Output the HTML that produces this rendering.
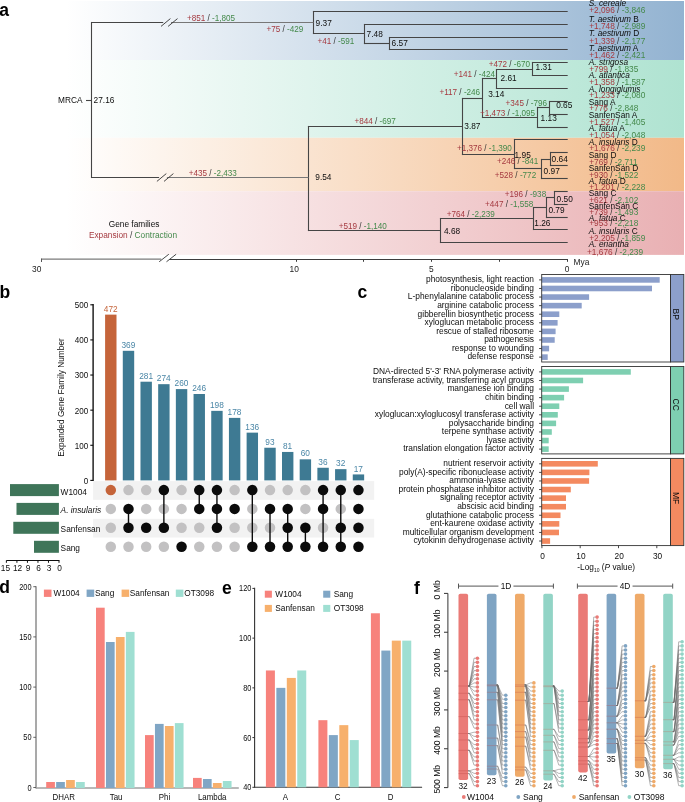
<!DOCTYPE html>
<html><head><meta charset="utf-8"><style>
html,body{margin:0;padding:0;background:#fff;width:685px;height:802px;overflow:hidden}
svg{display:block;will-change:transform}
text{font-family:"Liberation Sans",sans-serif}
</style></head><body>
<svg width="685" height="802" viewBox="0 0 685 802">
<defs><linearGradient id="g0" gradientUnits="userSpaceOnUse" x1="66" y1="0" x2="684" y2="0"><stop offset="0" stop-color="#ffffff"/><stop offset="1" stop-color="#93b3d1"/></linearGradient><linearGradient id="g1" gradientUnits="userSpaceOnUse" x1="66" y1="0" x2="684" y2="0"><stop offset="0" stop-color="#ffffff"/><stop offset="1" stop-color="#afe3d1"/></linearGradient><linearGradient id="g2" gradientUnits="userSpaceOnUse" x1="66" y1="0" x2="684" y2="0"><stop offset="0" stop-color="#ffffff"/><stop offset="1" stop-color="#f2b988"/></linearGradient><linearGradient id="g3" gradientUnits="userSpaceOnUse" x1="66" y1="0" x2="684" y2="0"><stop offset="0" stop-color="#ffffff"/><stop offset="1" stop-color="#e9b0b3"/></linearGradient></defs>
<rect x="0" y="0" width="685" height="802" fill="#fff"/>
<rect x="40.00" y="1.00" width="644.00" height="59.00" fill="url(#g0)" />
<rect x="40.00" y="60.00" width="644.00" height="77.80" fill="url(#g1)" />
<rect x="40.00" y="137.80" width="644.00" height="53.40" fill="url(#g2)" />
<rect x="40.00" y="191.20" width="644.00" height="63.70" fill="url(#g3)" />
<text x="-0.8" y="15.9" font-size="17.5" font-weight="bold" fill="#000">a</text>
<line x1="389.50" y1="36.95" x2="389.50" y2="50.05" stroke="#454545" stroke-width="1.1" />
<line x1="388.95" y1="37.50" x2="567.70" y2="37.50" stroke="#454545" stroke-width="1.1" />
<line x1="388.95" y1="49.50" x2="567.70" y2="49.50" stroke="#454545" stroke-width="1.1" />
<line x1="364.50" y1="23.95" x2="364.50" y2="44.05" stroke="#454545" stroke-width="1.1" />
<line x1="363.95" y1="24.50" x2="567.70" y2="24.50" stroke="#454545" stroke-width="1.1" />
<line x1="363.95" y1="43.50" x2="389.13" y2="43.50" stroke="#454545" stroke-width="1.1" />
<line x1="313.50" y1="10.95" x2="313.50" y2="34.05" stroke="#454545" stroke-width="1.1" />
<line x1="312.95" y1="11.50" x2="567.70" y2="11.50" stroke="#454545" stroke-width="1.1" />
<line x1="312.95" y1="33.50" x2="364.39" y2="33.50" stroke="#454545" stroke-width="1.1" />
<line x1="532.50" y1="61.95" x2="532.50" y2="76.05" stroke="#454545" stroke-width="1.1" />
<line x1="531.95" y1="62.50" x2="567.70" y2="62.50" stroke="#454545" stroke-width="1.1" />
<line x1="531.95" y1="75.50" x2="567.70" y2="75.50" stroke="#454545" stroke-width="1.1" />
<line x1="496.50" y1="68.95" x2="496.50" y2="89.05" stroke="#454545" stroke-width="1.1" />
<line x1="495.95" y1="69.50" x2="532.09" y2="69.50" stroke="#454545" stroke-width="1.1" />
<line x1="495.95" y1="88.50" x2="567.70" y2="88.50" stroke="#454545" stroke-width="1.1" />
<line x1="549.50" y1="100.95" x2="549.50" y2="115.05" stroke="#454545" stroke-width="1.1" />
<line x1="548.95" y1="101.50" x2="567.70" y2="101.50" stroke="#454545" stroke-width="1.1" />
<line x1="548.95" y1="114.50" x2="567.70" y2="114.50" stroke="#454545" stroke-width="1.1" />
<line x1="537.50" y1="106.95" x2="537.50" y2="128.05" stroke="#454545" stroke-width="1.1" />
<line x1="536.95" y1="107.50" x2="549.80" y2="107.50" stroke="#454545" stroke-width="1.1" />
<line x1="536.95" y1="127.50" x2="567.70" y2="127.50" stroke="#454545" stroke-width="1.1" />
<line x1="482.50" y1="77.95" x2="482.50" y2="118.05" stroke="#454545" stroke-width="1.1" />
<line x1="481.95" y1="78.50" x2="496.76" y2="78.50" stroke="#454545" stroke-width="1.1" />
<line x1="481.95" y1="117.50" x2="537.30" y2="117.50" stroke="#454545" stroke-width="1.1" />
<line x1="550.50" y1="151.95" x2="550.50" y2="166.05" stroke="#454545" stroke-width="1.1" />
<line x1="549.95" y1="152.50" x2="567.70" y2="152.50" stroke="#454545" stroke-width="1.1" />
<line x1="549.95" y1="165.50" x2="567.70" y2="165.50" stroke="#454545" stroke-width="1.1" />
<line x1="541.50" y1="158.95" x2="541.50" y2="179.05" stroke="#454545" stroke-width="1.1" />
<line x1="540.95" y1="159.50" x2="550.30" y2="159.50" stroke="#454545" stroke-width="1.1" />
<line x1="540.95" y1="178.50" x2="567.70" y2="178.50" stroke="#454545" stroke-width="1.1" />
<line x1="514.50" y1="138.95" x2="514.50" y2="169.05" stroke="#454545" stroke-width="1.1" />
<line x1="513.95" y1="139.50" x2="567.70" y2="139.50" stroke="#454545" stroke-width="1.1" />
<line x1="513.95" y1="168.50" x2="541.34" y2="168.50" stroke="#454545" stroke-width="1.1" />
<line x1="462.50" y1="97.95" x2="462.50" y2="155.05" stroke="#454545" stroke-width="1.1" />
<line x1="461.95" y1="98.50" x2="482.35" y2="98.50" stroke="#454545" stroke-width="1.1" />
<line x1="461.95" y1="154.50" x2="514.70" y2="154.50" stroke="#454545" stroke-width="1.1" />
<line x1="554.50" y1="190.95" x2="554.50" y2="205.05" stroke="#454545" stroke-width="1.1" />
<line x1="553.95" y1="191.50" x2="567.70" y2="191.50" stroke="#454545" stroke-width="1.1" />
<line x1="553.95" y1="204.50" x2="567.70" y2="204.50" stroke="#454545" stroke-width="1.1" />
<line x1="546.50" y1="196.95" x2="546.50" y2="218.05" stroke="#454545" stroke-width="1.1" />
<line x1="545.95" y1="197.50" x2="554.11" y2="197.50" stroke="#454545" stroke-width="1.1" />
<line x1="545.95" y1="217.50" x2="567.70" y2="217.50" stroke="#454545" stroke-width="1.1" />
<line x1="533.50" y1="206.95" x2="533.50" y2="230.05" stroke="#454545" stroke-width="1.1" />
<line x1="532.95" y1="207.50" x2="546.23" y2="207.50" stroke="#454545" stroke-width="1.1" />
<line x1="532.95" y1="229.50" x2="567.70" y2="229.50" stroke="#454545" stroke-width="1.1" />
<line x1="440.50" y1="217.95" x2="440.50" y2="243.05" stroke="#454545" stroke-width="1.1" />
<line x1="439.95" y1="218.50" x2="533.45" y2="218.50" stroke="#454545" stroke-width="1.1" />
<line x1="439.95" y1="242.50" x2="567.70" y2="242.50" stroke="#454545" stroke-width="1.1" />
<line x1="308.50" y1="125.95" x2="308.50" y2="231.05" stroke="#454545" stroke-width="1.1" />
<line x1="307.95" y1="126.50" x2="462.51" y2="126.50" stroke="#454545" stroke-width="1.1" />
<line x1="307.95" y1="230.50" x2="440.50" y2="230.50" stroke="#454545" stroke-width="1.1" />
<line x1="91.50" y1="21.95" x2="91.50" y2="178.05" stroke="#454545" stroke-width="1.1" />
<line x1="86.00" y1="100.50" x2="91.50" y2="100.50" stroke="#454545" stroke-width="1.1" />
<line x1="91.50" y1="22.50" x2="163.20" y2="22.50" stroke="#454545" stroke-width="1.1" />
<line x1="171.00" y1="22.50" x2="313.50" y2="22.50" stroke="#777" stroke-width="1.2" />
<line x1="161.00" y1="26.40" x2="170.40" y2="18.60" stroke="#333" stroke-width="0.9" />
<line x1="168.10" y1="26.40" x2="177.50" y2="18.60" stroke="#333" stroke-width="0.9" />
<line x1="91.50" y1="177.50" x2="159.10" y2="177.50" stroke="#454545" stroke-width="1.1" />
<line x1="166.90" y1="177.50" x2="308.50" y2="177.50" stroke="#777" stroke-width="1.2" />
<line x1="156.90" y1="181.40" x2="166.30" y2="173.60" stroke="#333" stroke-width="0.9" />
<line x1="164.00" y1="181.40" x2="173.40" y2="173.60" stroke="#333" stroke-width="0.9" />
<text x="315.60" y="25.95" font-size="8.3" text-anchor="start" fill="#0d0d0d" >9.37</text>
<text x="366.60" y="36.95" font-size="8.3" text-anchor="start" fill="#0d0d0d" >7.48</text>
<text x="391.60" y="46.35" font-size="8.3" text-anchor="start" fill="#0d0d0d" >6.57</text>
<text x="535.60" y="69.65" font-size="8.3" text-anchor="start" fill="#0d0d0d" >1.31</text>
<text x="500.50" y="81.25" font-size="8.3" text-anchor="start" fill="#0d0d0d" >2.61</text>
<text x="488.20" y="96.95" font-size="8.3" text-anchor="start" fill="#0d0d0d" >3.14</text>
<text x="556.20" y="108.15" font-size="8.3" text-anchor="start" fill="#0d0d0d" >0.65</text>
<text x="540.60" y="120.75" font-size="8.3" text-anchor="start" fill="#0d0d0d" >1.13</text>
<text x="464.30" y="128.95" font-size="8.3" text-anchor="start" fill="#0d0d0d" >3.87</text>
<text x="514.60" y="157.95" font-size="8.3" text-anchor="start" fill="#0d0d0d" >1.95</text>
<text x="551.60" y="162.45" font-size="8.3" text-anchor="start" fill="#0d0d0d" >0.64</text>
<text x="543.60" y="173.75" font-size="8.3" text-anchor="start" fill="#0d0d0d" >0.97</text>
<text x="556.60" y="201.65" font-size="8.3" text-anchor="start" fill="#0d0d0d" >0.50</text>
<text x="548.40" y="212.75" font-size="8.3" text-anchor="start" fill="#0d0d0d" >0.79</text>
<text x="534.30" y="225.95" font-size="8.3" text-anchor="start" fill="#0d0d0d" >1.26</text>
<text x="444.00" y="234.35" font-size="8.3" text-anchor="start" fill="#0d0d0d" >4.68</text>
<text x="315.30" y="179.95" font-size="8.3" text-anchor="start" fill="#0d0d0d" >9.54</text>
<text x="93.60" y="103.05" font-size="8.3" text-anchor="start" fill="#0d0d0d" >27.16</text>
<text x="186.90" y="21.25" font-size="8.15" text-anchor="start"><tspan fill="#a53a40">+851</tspan><tspan fill="#333"> / </tspan><tspan fill="#44894b">-1,805</tspan></text>
<text x="266.50" y="31.75" font-size="8.15" text-anchor="start"><tspan fill="#a53a40">+75</tspan><tspan fill="#333"> / </tspan><tspan fill="#44894b">-429</tspan></text>
<text x="317.40" y="43.65" font-size="8.15" text-anchor="start"><tspan fill="#a53a40">+41</tspan><tspan fill="#333"> / </tspan><tspan fill="#44894b">-591</tspan></text>
<text x="488.70" y="67.25" font-size="8.15" text-anchor="start"><tspan fill="#a53a40">+472</tspan><tspan fill="#333"> / </tspan><tspan fill="#44894b">-670</tspan></text>
<text x="453.70" y="76.95" font-size="8.15" text-anchor="start"><tspan fill="#a53a40">+141</tspan><tspan fill="#333"> / </tspan><tspan fill="#44894b">-424</tspan></text>
<text x="439.40" y="94.95" font-size="8.15" text-anchor="start"><tspan fill="#a53a40">+117</tspan><tspan fill="#333"> / </tspan><tspan fill="#44894b">-246</tspan></text>
<text x="505.60" y="105.55" font-size="8.15" text-anchor="start"><tspan fill="#a53a40">+345</tspan><tspan fill="#333"> / </tspan><tspan fill="#44894b">-796</tspan></text>
<text x="480.10" y="115.75" font-size="8.15" text-anchor="start"><tspan fill="#a53a40">+1,473</tspan><tspan fill="#333"> / </tspan><tspan fill="#44894b">-1,095</tspan></text>
<text x="354.50" y="123.95" font-size="8.15" text-anchor="start"><tspan fill="#a53a40">+844</tspan><tspan fill="#333"> / </tspan><tspan fill="#44894b">-697</tspan></text>
<text x="456.90" y="151.35" font-size="8.15" text-anchor="start"><tspan fill="#a53a40">+1,376</tspan><tspan fill="#333"> / </tspan><tspan fill="#44894b">-1,390</tspan></text>
<text x="496.90" y="164.45" font-size="8.15" text-anchor="start"><tspan fill="#a53a40">+246</tspan><tspan fill="#333"> / </tspan><tspan fill="#44894b">-841</tspan></text>
<text x="494.80" y="178.15" font-size="8.15" text-anchor="start"><tspan fill="#a53a40">+528</tspan><tspan fill="#333"> / </tspan><tspan fill="#44894b">-772</tspan></text>
<text x="188.70" y="175.95" font-size="8.15" text-anchor="start"><tspan fill="#a53a40">+435</tspan><tspan fill="#333"> / </tspan><tspan fill="#44894b">-2,433</tspan></text>
<text x="504.80" y="196.75" font-size="8.15" text-anchor="start"><tspan fill="#a53a40">+196</tspan><tspan fill="#333"> / </tspan><tspan fill="#44894b">-938</tspan></text>
<text x="485.10" y="206.95" font-size="8.15" text-anchor="start"><tspan fill="#a53a40">+447</tspan><tspan fill="#333"> / </tspan><tspan fill="#44894b">-1,558</tspan></text>
<text x="446.70" y="217.15" font-size="8.15" text-anchor="start"><tspan fill="#a53a40">+764</tspan><tspan fill="#333"> / </tspan><tspan fill="#44894b">-2,239</tspan></text>
<text x="338.70" y="228.55" font-size="8.15" text-anchor="start"><tspan fill="#a53a40">+519</tspan><tspan fill="#333"> / </tspan><tspan fill="#44894b">-1,140</tspan></text>
<text x="588.80" y="5.80" font-size="8.3" text-anchor="start" fill="#0d0d0d" ><tspan font-style="italic">S. cereale</tspan></text>
<text x="589.20" y="13.40" font-size="8.3" text-anchor="start"><tspan fill="#a53a40">+2,096</tspan><tspan fill="#333"> / </tspan><tspan fill="#44894b">-3,846</tspan></text>
<text x="588.80" y="21.60" font-size="8.3" text-anchor="start" fill="#0d0d0d" ><tspan font-style="italic">T. aestivum</tspan> B</text>
<text x="589.20" y="29.00" font-size="8.3" text-anchor="start"><tspan fill="#a53a40">+1,748</tspan><tspan fill="#333"> / </tspan><tspan fill="#44894b">-2,989</tspan></text>
<text x="588.80" y="35.60" font-size="8.3" text-anchor="start" fill="#0d0d0d" ><tspan font-style="italic">T. aestivum</tspan> D</text>
<text x="589.20" y="43.80" font-size="8.3" text-anchor="start"><tspan fill="#a53a40">+1,339</tspan><tspan fill="#333"> / </tspan><tspan fill="#44894b">-2,177</tspan></text>
<text x="588.80" y="51.40" font-size="8.3" text-anchor="start" fill="#0d0d0d" ><tspan font-style="italic">T. aestivum</tspan> A</text>
<text x="589.20" y="58.40" font-size="8.3" text-anchor="start"><tspan fill="#a53a40">+1,462</tspan><tspan fill="#333"> / </tspan><tspan fill="#44894b">-2,421</tspan></text>
<text x="588.80" y="64.90" font-size="8.3" text-anchor="start" fill="#0d0d0d" ><tspan font-style="italic">A. strigosa</tspan></text>
<text x="589.20" y="71.70" font-size="8.3" text-anchor="start"><tspan fill="#a53a40">+799</tspan><tspan fill="#333"> / </tspan><tspan fill="#44894b">-1,835</tspan></text>
<text x="588.80" y="77.50" font-size="8.3" text-anchor="start" fill="#0d0d0d" ><tspan font-style="italic">A. atlantica</tspan></text>
<text x="589.20" y="85.10" font-size="8.3" text-anchor="start"><tspan fill="#a53a40">+1,358</tspan><tspan fill="#333"> / </tspan><tspan fill="#44894b">-1,587</tspan></text>
<text x="588.80" y="91.50" font-size="8.3" text-anchor="start" fill="#0d0d0d" ><tspan font-style="italic">A. longiglumis</tspan></text>
<text x="589.20" y="97.60" font-size="8.3" text-anchor="start"><tspan fill="#a53a40">+1,233</tspan><tspan fill="#333"> / </tspan><tspan fill="#44894b">-2,080</tspan></text>
<text x="588.80" y="104.60" font-size="8.3" text-anchor="start" fill="#0d0d0d" >Sang A</text>
<text x="589.20" y="111.40" font-size="8.3" text-anchor="start"><tspan fill="#a53a40">+776</tspan><tspan fill="#333"> / </tspan><tspan fill="#44894b">-2,848</tspan></text>
<text x="588.80" y="118.20" font-size="8.3" text-anchor="start" fill="#0d0d0d" >SanfenSan A</text>
<text x="589.20" y="124.80" font-size="8.3" text-anchor="start"><tspan fill="#a53a40">+1,527</tspan><tspan fill="#333"> / </tspan><tspan fill="#44894b">-1,405</tspan></text>
<text x="588.80" y="130.50" font-size="8.3" text-anchor="start" fill="#0d0d0d" ><tspan font-style="italic">A. fatua</tspan> A</text>
<text x="589.20" y="137.50" font-size="8.3" text-anchor="start"><tspan fill="#a53a40">+1,054</tspan><tspan fill="#333"> / </tspan><tspan fill="#44894b">-2,048</tspan></text>
<text x="588.80" y="144.50" font-size="8.3" text-anchor="start" fill="#0d0d0d" ><tspan font-style="italic">A. insularis</tspan> D</text>
<text x="589.20" y="151.30" font-size="8.3" text-anchor="start"><tspan fill="#a53a40">+1,676</tspan><tspan fill="#333"> / </tspan><tspan fill="#44894b">-2,239</tspan></text>
<text x="588.80" y="157.60" font-size="8.3" text-anchor="start" fill="#0d0d0d" >Sang D</text>
<text x="589.20" y="165.00" font-size="8.3" text-anchor="start"><tspan fill="#a53a40">+769</tspan><tspan fill="#333"> / </tspan><tspan fill="#44894b">-2,711</tspan></text>
<text x="588.80" y="171.40" font-size="8.3" text-anchor="start" fill="#0d0d0d" >SanfenSan D</text>
<text x="589.20" y="177.50" font-size="8.3" text-anchor="start"><tspan fill="#a53a40">+930</tspan><tspan fill="#333"> / </tspan><tspan fill="#44894b">-1,522</tspan></text>
<text x="588.80" y="184.10" font-size="8.3" text-anchor="start" fill="#0d0d0d" ><tspan font-style="italic">A. fatua</tspan> D</text>
<text x="589.20" y="189.90" font-size="8.3" text-anchor="start"><tspan fill="#a53a40">+1,201</tspan><tspan fill="#333"> / </tspan><tspan fill="#44894b">-2,228</tspan></text>
<text x="588.80" y="196.40" font-size="8.3" text-anchor="start" fill="#0d0d0d" >Sang C</text>
<text x="589.20" y="202.80" font-size="8.3" text-anchor="start"><tspan fill="#a53a40">+621</tspan><tspan fill="#333"> / </tspan><tspan fill="#44894b">-2,102</tspan></text>
<text x="588.80" y="209.00" font-size="8.3" text-anchor="start" fill="#0d0d0d" >SanfenSan C</text>
<text x="589.20" y="214.50" font-size="8.3" text-anchor="start"><tspan fill="#a53a40">+739</tspan><tspan fill="#333"> / </tspan><tspan fill="#44894b">-1,493</tspan></text>
<text x="588.80" y="220.60" font-size="8.3" text-anchor="start" fill="#0d0d0d" ><tspan font-style="italic">A. fatua</tspan> C</text>
<text x="589.20" y="226.10" font-size="8.3" text-anchor="start"><tspan fill="#a53a40">+953</tspan><tspan fill="#333"> / </tspan><tspan fill="#44894b">-2,218</tspan></text>
<text x="588.80" y="233.50" font-size="8.3" text-anchor="start" fill="#0d0d0d" ><tspan font-style="italic">A. insularis</tspan> C</text>
<text x="589.20" y="240.70" font-size="8.3" text-anchor="start"><tspan fill="#a53a40">+2,205</tspan><tspan fill="#333"> / </tspan><tspan fill="#44894b">-1,859</tspan></text>
<text x="588.80" y="246.90" font-size="8.3" text-anchor="start" fill="#0d0d0d" ><tspan font-style="italic">A. eriantha</tspan></text>
<text x="587.00" y="254.90" font-size="8.3" text-anchor="start"><tspan fill="#a53a40">+1,676</tspan><tspan fill="#333"> / </tspan><tspan fill="#44894b">-2,239</tspan></text>
<text x="58.00" y="103.10" font-size="8.3" text-anchor="start" fill="#0d0d0d" >MRCA</text>
<text x="134.10" y="226.60" font-size="8.3" text-anchor="middle" fill="#0d0d0d" >Gene families</text>
<text x="133.0" y="238.0" font-size="8.3" text-anchor="middle"><tspan fill="#a53a40">Expansion</tspan><tspan fill="#333"> / </tspan><tspan fill="#44894b">Contraction</tspan></text>
<line x1="41.20" y1="259.05" x2="161.20" y2="259.05" stroke="#7a7a7a" stroke-width="1.2" />
<line x1="169.50" y1="259.50" x2="568.00" y2="259.50" stroke="#3d3d3d" stroke-width="1.0" />
<line x1="159.20" y1="261.75" x2="168.80" y2="254.25" stroke="#333" stroke-width="0.9" />
<line x1="166.50" y1="261.75" x2="176.10" y2="254.25" stroke="#333" stroke-width="0.9" />
<line x1="41.50" y1="258.55" x2="41.50" y2="262.00" stroke="#555" stroke-width="1.0" />
<line x1="296.50" y1="259.00" x2="296.50" y2="261.80" stroke="#3d3d3d" stroke-width="1.0" />
<line x1="363.50" y1="259.00" x2="363.50" y2="261.80" stroke="#3d3d3d" stroke-width="1.0" />
<line x1="431.50" y1="259.00" x2="431.50" y2="261.80" stroke="#3d3d3d" stroke-width="1.0" />
<line x1="499.50" y1="259.00" x2="499.50" y2="261.80" stroke="#3d3d3d" stroke-width="1.0" />
<line x1="567.50" y1="259.00" x2="567.50" y2="261.80" stroke="#3d3d3d" stroke-width="1.0" />
<text x="41.30" y="271.90" font-size="8.4" text-anchor="end" fill="#222" >30</text>
<text x="294.20" y="271.90" font-size="8.4" text-anchor="middle" fill="#222" >10</text>
<text x="431.30" y="271.90" font-size="8.4" text-anchor="middle" fill="#222" >5</text>
<text x="567.20" y="271.90" font-size="8.4" text-anchor="middle" fill="#222" >0</text>
<text x="573.50" y="265.00" font-size="8.4" text-anchor="start" fill="#222" >Mya</text>
<text x="-0.4" y="297.8" font-size="17.5" font-weight="bold" fill="#000">b</text>
<line x1="93.10" y1="304.00" x2="93.10" y2="481.00" stroke="#000" stroke-width="1.3" />
<line x1="90.30" y1="480.40" x2="93.10" y2="480.40" stroke="#0d0d0d" stroke-width="1.1" />
<text transform="translate(88.20,483.80) scale(0.95,1)" font-size="8.5" text-anchor="end" fill="#0d0d0d">0</text>
<line x1="90.30" y1="445.28" x2="93.10" y2="445.28" stroke="#0d0d0d" stroke-width="1.1" />
<text transform="translate(88.20,448.68) scale(0.95,1)" font-size="8.5" text-anchor="end" fill="#0d0d0d">100</text>
<line x1="90.30" y1="410.16" x2="93.10" y2="410.16" stroke="#0d0d0d" stroke-width="1.1" />
<text transform="translate(88.20,413.56) scale(0.95,1)" font-size="8.5" text-anchor="end" fill="#0d0d0d">200</text>
<line x1="90.30" y1="375.04" x2="93.10" y2="375.04" stroke="#0d0d0d" stroke-width="1.1" />
<text transform="translate(88.20,378.44) scale(0.95,1)" font-size="8.5" text-anchor="end" fill="#0d0d0d">300</text>
<line x1="90.30" y1="339.92" x2="93.10" y2="339.92" stroke="#0d0d0d" stroke-width="1.1" />
<text transform="translate(88.20,343.32) scale(0.95,1)" font-size="8.5" text-anchor="end" fill="#0d0d0d">400</text>
<line x1="90.30" y1="304.80" x2="93.10" y2="304.80" stroke="#0d0d0d" stroke-width="1.1" />
<text transform="translate(88.20,308.20) scale(0.95,1)" font-size="8.5" text-anchor="end" fill="#0d0d0d">500</text>
<text transform="translate(64.1,397.5) rotate(-90)" font-size="8.3" text-anchor="middle" fill="#0d0d0d">Expanded Gene Family Number</text>
<rect x="93.10" y="481.10" width="281.10" height="18.70" fill="#f2f2f2" />
<rect x="93.10" y="518.80" width="281.10" height="18.70" fill="#f2f2f2" />
<rect x="105.10" y="314.63" width="11.40" height="165.77" fill="#c5643a" />
<text x="110.70" y="311.73" font-size="8.3" text-anchor="middle" fill="#c5643a" >472</text>
<rect x="122.79" y="350.81" width="11.40" height="129.59" fill="#3e7a93" />
<text x="128.39" y="347.91" font-size="8.3" text-anchor="middle" fill="#4a86a6" >369</text>
<rect x="140.48" y="381.71" width="11.40" height="98.69" fill="#3e7a93" />
<text x="146.08" y="378.81" font-size="8.3" text-anchor="middle" fill="#4a86a6" >281</text>
<rect x="158.17" y="384.17" width="11.40" height="96.23" fill="#3e7a93" />
<text x="163.77" y="381.27" font-size="8.3" text-anchor="middle" fill="#4a86a6" >274</text>
<rect x="175.86" y="389.09" width="11.40" height="91.31" fill="#3e7a93" />
<text x="181.46" y="386.19" font-size="8.3" text-anchor="middle" fill="#4a86a6" >260</text>
<rect x="193.55" y="394.00" width="11.40" height="86.40" fill="#3e7a93" />
<text x="199.15" y="391.10" font-size="8.3" text-anchor="middle" fill="#4a86a6" >246</text>
<rect x="211.24" y="410.86" width="11.40" height="69.54" fill="#3e7a93" />
<text x="216.84" y="407.96" font-size="8.3" text-anchor="middle" fill="#4a86a6" >198</text>
<rect x="228.93" y="417.89" width="11.40" height="62.51" fill="#3e7a93" />
<text x="234.53" y="414.99" font-size="8.3" text-anchor="middle" fill="#4a86a6" >178</text>
<rect x="246.62" y="432.64" width="11.40" height="47.76" fill="#3e7a93" />
<text x="252.22" y="429.74" font-size="8.3" text-anchor="middle" fill="#4a86a6" >136</text>
<rect x="264.31" y="447.74" width="11.40" height="32.66" fill="#3e7a93" />
<text x="269.91" y="444.84" font-size="8.3" text-anchor="middle" fill="#4a86a6" >93</text>
<rect x="282.00" y="451.95" width="11.40" height="28.45" fill="#3e7a93" />
<text x="287.60" y="449.05" font-size="8.3" text-anchor="middle" fill="#4a86a6" >81</text>
<rect x="299.69" y="459.33" width="11.40" height="21.07" fill="#3e7a93" />
<text x="305.29" y="456.43" font-size="8.3" text-anchor="middle" fill="#4a86a6" >60</text>
<rect x="317.38" y="467.76" width="11.40" height="12.64" fill="#3e7a93" />
<text x="322.98" y="464.86" font-size="8.3" text-anchor="middle" fill="#4a86a6" >36</text>
<rect x="335.07" y="469.16" width="11.40" height="11.24" fill="#3e7a93" />
<text x="340.67" y="466.26" font-size="8.3" text-anchor="middle" fill="#4a86a6" >32</text>
<rect x="352.76" y="474.43" width="11.40" height="5.97" fill="#3e7a93" />
<text x="358.36" y="471.53" font-size="8.3" text-anchor="middle" fill="#4a86a6" >17</text>
<circle cx="110.80" cy="508.90" r="5.25" fill="#c2c1c2"/>
<circle cx="110.80" cy="527.80" r="5.25" fill="#c2c1c2"/>
<circle cx="110.80" cy="546.80" r="5.25" fill="#c2c1c2"/>
<circle cx="110.80" cy="490.10" r="5.25" fill="#c5643a"/>
<circle cx="128.49" cy="490.10" r="5.25" fill="#c2c1c2"/>
<circle cx="128.49" cy="546.80" r="5.25" fill="#c2c1c2"/>
<line x1="128.49" y1="508.90" x2="128.49" y2="527.80" stroke="#0b0b0b" stroke-width="1.4" />
<circle cx="128.49" cy="508.90" r="5.25" fill="#0b0b0b"/>
<circle cx="128.49" cy="527.80" r="5.25" fill="#0b0b0b"/>
<circle cx="146.18" cy="490.10" r="5.25" fill="#c2c1c2"/>
<circle cx="146.18" cy="508.90" r="5.25" fill="#c2c1c2"/>
<circle cx="146.18" cy="546.80" r="5.25" fill="#c2c1c2"/>
<circle cx="146.18" cy="527.80" r="5.25" fill="#0b0b0b"/>
<circle cx="163.87" cy="508.90" r="5.25" fill="#c2c1c2"/>
<circle cx="163.87" cy="546.80" r="5.25" fill="#c2c1c2"/>
<line x1="163.87" y1="490.10" x2="163.87" y2="527.80" stroke="#0b0b0b" stroke-width="1.4" />
<circle cx="163.87" cy="490.10" r="5.25" fill="#0b0b0b"/>
<circle cx="163.87" cy="527.80" r="5.25" fill="#0b0b0b"/>
<circle cx="181.56" cy="490.10" r="5.25" fill="#c2c1c2"/>
<circle cx="181.56" cy="508.90" r="5.25" fill="#c2c1c2"/>
<circle cx="181.56" cy="527.80" r="5.25" fill="#c2c1c2"/>
<circle cx="181.56" cy="546.80" r="5.25" fill="#0b0b0b"/>
<circle cx="199.25" cy="527.80" r="5.25" fill="#c2c1c2"/>
<circle cx="199.25" cy="546.80" r="5.25" fill="#c2c1c2"/>
<line x1="199.25" y1="490.10" x2="199.25" y2="508.90" stroke="#0b0b0b" stroke-width="1.4" />
<circle cx="199.25" cy="490.10" r="5.25" fill="#0b0b0b"/>
<circle cx="199.25" cy="508.90" r="5.25" fill="#0b0b0b"/>
<circle cx="216.94" cy="546.80" r="5.25" fill="#c2c1c2"/>
<line x1="216.94" y1="490.10" x2="216.94" y2="527.80" stroke="#0b0b0b" stroke-width="1.4" />
<circle cx="216.94" cy="490.10" r="5.25" fill="#0b0b0b"/>
<circle cx="216.94" cy="508.90" r="5.25" fill="#0b0b0b"/>
<circle cx="216.94" cy="527.80" r="5.25" fill="#0b0b0b"/>
<circle cx="234.63" cy="490.10" r="5.25" fill="#c2c1c2"/>
<circle cx="234.63" cy="527.80" r="5.25" fill="#c2c1c2"/>
<circle cx="234.63" cy="546.80" r="5.25" fill="#c2c1c2"/>
<circle cx="234.63" cy="508.90" r="5.25" fill="#0b0b0b"/>
<circle cx="252.32" cy="508.90" r="5.25" fill="#c2c1c2"/>
<circle cx="252.32" cy="527.80" r="5.25" fill="#c2c1c2"/>
<line x1="252.32" y1="490.10" x2="252.32" y2="546.80" stroke="#0b0b0b" stroke-width="1.4" />
<circle cx="252.32" cy="490.10" r="5.25" fill="#0b0b0b"/>
<circle cx="252.32" cy="546.80" r="5.25" fill="#0b0b0b"/>
<circle cx="270.01" cy="490.10" r="5.25" fill="#c2c1c2"/>
<circle cx="270.01" cy="527.80" r="5.25" fill="#c2c1c2"/>
<line x1="270.01" y1="508.90" x2="270.01" y2="546.80" stroke="#0b0b0b" stroke-width="1.4" />
<circle cx="270.01" cy="508.90" r="5.25" fill="#0b0b0b"/>
<circle cx="270.01" cy="546.80" r="5.25" fill="#0b0b0b"/>
<circle cx="287.70" cy="490.10" r="5.25" fill="#c2c1c2"/>
<line x1="287.70" y1="508.90" x2="287.70" y2="546.80" stroke="#0b0b0b" stroke-width="1.4" />
<circle cx="287.70" cy="508.90" r="5.25" fill="#0b0b0b"/>
<circle cx="287.70" cy="527.80" r="5.25" fill="#0b0b0b"/>
<circle cx="287.70" cy="546.80" r="5.25" fill="#0b0b0b"/>
<circle cx="305.39" cy="490.10" r="5.25" fill="#c2c1c2"/>
<circle cx="305.39" cy="508.90" r="5.25" fill="#c2c1c2"/>
<line x1="305.39" y1="527.80" x2="305.39" y2="546.80" stroke="#0b0b0b" stroke-width="1.4" />
<circle cx="305.39" cy="527.80" r="5.25" fill="#0b0b0b"/>
<circle cx="305.39" cy="546.80" r="5.25" fill="#0b0b0b"/>
<circle cx="323.08" cy="527.80" r="5.25" fill="#c2c1c2"/>
<line x1="323.08" y1="490.10" x2="323.08" y2="546.80" stroke="#0b0b0b" stroke-width="1.4" />
<circle cx="323.08" cy="490.10" r="5.25" fill="#0b0b0b"/>
<circle cx="323.08" cy="508.90" r="5.25" fill="#0b0b0b"/>
<circle cx="323.08" cy="546.80" r="5.25" fill="#0b0b0b"/>
<circle cx="340.77" cy="508.90" r="5.25" fill="#c2c1c2"/>
<line x1="340.77" y1="490.10" x2="340.77" y2="546.80" stroke="#0b0b0b" stroke-width="1.4" />
<circle cx="340.77" cy="490.10" r="5.25" fill="#0b0b0b"/>
<circle cx="340.77" cy="527.80" r="5.25" fill="#0b0b0b"/>
<circle cx="340.77" cy="546.80" r="5.25" fill="#0b0b0b"/>
<circle cx="358.46" cy="490.10" r="5.25" fill="#0b0b0b"/>
<circle cx="358.46" cy="508.90" r="5.25" fill="#0b0b0b"/>
<circle cx="358.46" cy="527.80" r="5.25" fill="#0b0b0b"/>
<circle cx="358.46" cy="546.80" r="5.25" fill="#0b0b0b"/>
<rect x="10.00" y="484.10" width="48.90" height="12.00" fill="#3f7559" />
<text x="60.60" y="494.50" font-size="8.3" text-anchor="start" fill="#0d0d0d" >W1004</text>
<rect x="16.50" y="502.90" width="42.40" height="12.00" fill="#3f7559" />
<text x="60.60" y="513.30" font-size="8.3" text-anchor="start" fill="#0d0d0d" ><tspan font-style="italic">A. insularis</tspan></text>
<rect x="13.30" y="521.80" width="45.60" height="12.00" fill="#3f7559" />
<text x="60.60" y="532.20" font-size="8.3" text-anchor="start" fill="#0d0d0d" >Sanfensan</text>
<rect x="34.00" y="540.80" width="24.90" height="12.00" fill="#3f7559" />
<text x="60.60" y="551.20" font-size="8.3" text-anchor="start" fill="#0d0d0d" >Sang</text>
<line x1="6.40" y1="560.50" x2="59.40" y2="560.50" stroke="#0d0d0d" stroke-width="1.0" />
<line x1="6.39" y1="560.40" x2="6.39" y2="562.80" stroke="#0d0d0d" stroke-width="1.0" />
<text x="5.39" y="571.10" font-size="8.3" text-anchor="middle" fill="#0d0d0d" >15</text>
<line x1="16.92" y1="560.40" x2="16.92" y2="562.80" stroke="#0d0d0d" stroke-width="1.0" />
<text x="17.52" y="571.10" font-size="8.3" text-anchor="middle" fill="#0d0d0d" >12</text>
<line x1="27.44" y1="560.40" x2="27.44" y2="562.80" stroke="#0d0d0d" stroke-width="1.0" />
<text x="28.04" y="571.10" font-size="8.3" text-anchor="middle" fill="#0d0d0d" >9</text>
<line x1="37.96" y1="560.40" x2="37.96" y2="562.80" stroke="#0d0d0d" stroke-width="1.0" />
<text x="38.56" y="571.10" font-size="8.3" text-anchor="middle" fill="#0d0d0d" >6</text>
<line x1="48.48" y1="560.40" x2="48.48" y2="562.80" stroke="#0d0d0d" stroke-width="1.0" />
<text x="49.08" y="571.10" font-size="8.3" text-anchor="middle" fill="#0d0d0d" >3</text>
<line x1="59.00" y1="560.40" x2="59.00" y2="562.80" stroke="#0d0d0d" stroke-width="1.0" />
<text x="59.60" y="571.10" font-size="8.3" text-anchor="middle" fill="#0d0d0d" >0</text>
<text x="357.4" y="297.8" font-size="17.5" font-weight="bold" fill="#000">c</text>
<rect x="670.50" y="274.50" width="13.30" height="87.50" fill="#8c9fcb" />
<rect x="541.70" y="277.10" width="118.00" height="5.60" fill="#8c9fcb" />
<line x1="539.10" y1="279.90" x2="541.70" y2="279.90" stroke="#333" stroke-width="0.9" />
<text x="534.00" y="282.20" font-size="8.4" text-anchor="end" fill="#0d0d0d" >photosynthesis, light reaction</text>
<rect x="541.70" y="285.68" width="110.30" height="5.60" fill="#8c9fcb" />
<line x1="539.10" y1="288.48" x2="541.70" y2="288.48" stroke="#333" stroke-width="0.9" />
<text x="534.00" y="290.78" font-size="8.4" text-anchor="end" fill="#0d0d0d" >ribonucleoside binding</text>
<rect x="541.70" y="294.26" width="47.40" height="5.60" fill="#8c9fcb" />
<line x1="539.10" y1="297.06" x2="541.70" y2="297.06" stroke="#333" stroke-width="0.9" />
<text x="534.00" y="299.36" font-size="8.4" text-anchor="end" fill="#0d0d0d" >L-phenylalanine catabolic process</text>
<rect x="541.70" y="302.84" width="40.00" height="5.60" fill="#8c9fcb" />
<line x1="539.10" y1="305.64" x2="541.70" y2="305.64" stroke="#333" stroke-width="0.9" />
<text x="534.00" y="307.94" font-size="8.4" text-anchor="end" fill="#0d0d0d" >arginine catabolic process</text>
<rect x="541.70" y="311.42" width="17.60" height="5.60" fill="#8c9fcb" />
<line x1="539.10" y1="314.22" x2="541.70" y2="314.22" stroke="#333" stroke-width="0.9" />
<text x="534.00" y="316.52" font-size="8.4" text-anchor="end" fill="#0d0d0d" >gibberellin biosynthetic process</text>
<rect x="541.70" y="320.00" width="15.90" height="5.60" fill="#8c9fcb" />
<line x1="539.10" y1="322.80" x2="541.70" y2="322.80" stroke="#333" stroke-width="0.9" />
<text x="534.00" y="325.10" font-size="8.4" text-anchor="end" fill="#0d0d0d" >xyloglucan metabolic process</text>
<rect x="541.70" y="328.58" width="13.90" height="5.60" fill="#8c9fcb" />
<line x1="539.10" y1="331.38" x2="541.70" y2="331.38" stroke="#333" stroke-width="0.9" />
<text x="534.00" y="333.68" font-size="8.4" text-anchor="end" fill="#0d0d0d" >rescue of stalled ribosome</text>
<rect x="541.70" y="337.16" width="13.00" height="5.60" fill="#8c9fcb" />
<line x1="539.10" y1="339.96" x2="541.70" y2="339.96" stroke="#333" stroke-width="0.9" />
<text x="534.00" y="342.26" font-size="8.4" text-anchor="end" fill="#0d0d0d" >pathogenesis</text>
<rect x="541.70" y="345.74" width="7.40" height="5.60" fill="#8c9fcb" />
<line x1="539.10" y1="348.54" x2="541.70" y2="348.54" stroke="#333" stroke-width="0.9" />
<text x="534.00" y="350.84" font-size="8.4" text-anchor="end" fill="#0d0d0d" >response to wounding</text>
<rect x="541.70" y="354.32" width="6.00" height="5.60" fill="#8c9fcb" />
<line x1="539.10" y1="357.12" x2="541.70" y2="357.12" stroke="#333" stroke-width="0.9" />
<text x="534.00" y="359.42" font-size="8.4" text-anchor="end" fill="#0d0d0d" >defense response</text>
<rect x="541.70" y="274.50" width="128.80" height="87.50" fill="none" stroke="#333" stroke-width="0.9"/>
<rect x="670.50" y="274.50" width="13.30" height="87.50" fill="none" stroke="#333" stroke-width="0.9"/>
<text transform="translate(673.1,314.20) rotate(90)" font-size="8.5" text-anchor="middle" fill="#0d0d0d">BP</text>
<rect x="670.50" y="366.50" width="13.30" height="87.40" fill="#7ecfb1" />
<rect x="541.70" y="369.10" width="89.10" height="5.60" fill="#7ecfb1" />
<line x1="539.10" y1="371.90" x2="541.70" y2="371.90" stroke="#333" stroke-width="0.9" />
<text x="534.00" y="374.20" font-size="8.4" text-anchor="end" fill="#0d0d0d" >DNA-directed 5'-3' RNA polymerase activity</text>
<rect x="541.70" y="377.68" width="41.40" height="5.60" fill="#7ecfb1" />
<line x1="539.10" y1="380.48" x2="541.70" y2="380.48" stroke="#333" stroke-width="0.9" />
<text x="534.00" y="382.78" font-size="8.4" text-anchor="end" fill="#0d0d0d" >transferase activity, transferring acyl groups</text>
<rect x="541.70" y="386.26" width="27.20" height="5.60" fill="#7ecfb1" />
<line x1="539.10" y1="389.06" x2="541.70" y2="389.06" stroke="#333" stroke-width="0.9" />
<text x="534.00" y="391.36" font-size="8.4" text-anchor="end" fill="#0d0d0d" >manganese ion binding</text>
<rect x="541.70" y="394.84" width="22.40" height="5.60" fill="#7ecfb1" />
<line x1="539.10" y1="397.64" x2="541.70" y2="397.64" stroke="#333" stroke-width="0.9" />
<text x="534.00" y="399.94" font-size="8.4" text-anchor="end" fill="#0d0d0d" >chitin binding</text>
<rect x="541.70" y="403.42" width="17.60" height="5.60" fill="#7ecfb1" />
<line x1="539.10" y1="406.22" x2="541.70" y2="406.22" stroke="#333" stroke-width="0.9" />
<text x="534.00" y="408.52" font-size="8.4" text-anchor="end" fill="#0d0d0d" >cell wall</text>
<rect x="541.70" y="412.00" width="16.10" height="5.60" fill="#7ecfb1" />
<line x1="539.10" y1="414.80" x2="541.70" y2="414.80" stroke="#333" stroke-width="0.9" />
<text x="534.00" y="417.10" font-size="8.4" text-anchor="end" fill="#0d0d0d" >xyloglucan:xyloglucosyl transferase activity</text>
<rect x="541.70" y="420.58" width="14.40" height="5.60" fill="#7ecfb1" />
<line x1="539.10" y1="423.38" x2="541.70" y2="423.38" stroke="#333" stroke-width="0.9" />
<text x="534.00" y="425.68" font-size="8.4" text-anchor="end" fill="#0d0d0d" >polysaccharide binding</text>
<rect x="541.70" y="429.16" width="10.10" height="5.60" fill="#7ecfb1" />
<line x1="539.10" y1="431.96" x2="541.70" y2="431.96" stroke="#333" stroke-width="0.9" />
<text x="534.00" y="434.26" font-size="8.4" text-anchor="end" fill="#0d0d0d" >terpene synthase activity</text>
<rect x="541.70" y="437.74" width="7.00" height="5.60" fill="#7ecfb1" />
<line x1="539.10" y1="440.54" x2="541.70" y2="440.54" stroke="#333" stroke-width="0.9" />
<text x="534.00" y="442.84" font-size="8.4" text-anchor="end" fill="#0d0d0d" >lyase activity</text>
<rect x="541.70" y="446.32" width="7.00" height="5.60" fill="#7ecfb1" />
<line x1="539.10" y1="449.12" x2="541.70" y2="449.12" stroke="#333" stroke-width="0.9" />
<text x="534.00" y="451.42" font-size="8.4" text-anchor="end" fill="#0d0d0d" >translation elongation factor activity</text>
<rect x="541.70" y="366.50" width="128.80" height="87.40" fill="none" stroke="#333" stroke-width="0.9"/>
<rect x="670.50" y="366.50" width="13.30" height="87.40" fill="none" stroke="#333" stroke-width="0.9"/>
<text transform="translate(673.1,404.70) rotate(90)" font-size="8.5" text-anchor="middle" fill="#0d0d0d">CC</text>
<rect x="670.50" y="458.40" width="13.30" height="87.20" fill="#f48a60" />
<rect x="541.70" y="461.00" width="56.10" height="5.60" fill="#f48a60" />
<line x1="539.10" y1="463.80" x2="541.70" y2="463.80" stroke="#333" stroke-width="0.9" />
<text x="534.00" y="466.10" font-size="8.4" text-anchor="end" fill="#0d0d0d" >nutrient reservoir activity</text>
<rect x="541.70" y="469.58" width="47.70" height="5.60" fill="#f48a60" />
<line x1="539.10" y1="472.38" x2="541.70" y2="472.38" stroke="#333" stroke-width="0.9" />
<text x="534.00" y="474.68" font-size="8.4" text-anchor="end" fill="#0d0d0d" >poly(A)-specific ribonuclease activity</text>
<rect x="541.70" y="478.16" width="47.40" height="5.60" fill="#f48a60" />
<line x1="539.10" y1="480.96" x2="541.70" y2="480.96" stroke="#333" stroke-width="0.9" />
<text x="534.00" y="483.26" font-size="8.4" text-anchor="end" fill="#0d0d0d" >ammonia-lyase activity</text>
<rect x="541.70" y="486.74" width="29.10" height="5.60" fill="#f48a60" />
<line x1="539.10" y1="489.54" x2="541.70" y2="489.54" stroke="#333" stroke-width="0.9" />
<text x="534.00" y="491.84" font-size="8.4" text-anchor="end" fill="#0d0d0d" >protein phosphatase inhibitor activity</text>
<rect x="541.70" y="495.32" width="24.30" height="5.60" fill="#f48a60" />
<line x1="539.10" y1="498.12" x2="541.70" y2="498.12" stroke="#333" stroke-width="0.9" />
<text x="534.00" y="500.42" font-size="8.4" text-anchor="end" fill="#0d0d0d" >signaling receptor activity</text>
<rect x="541.70" y="503.90" width="24.30" height="5.60" fill="#f48a60" />
<line x1="539.10" y1="506.70" x2="541.70" y2="506.70" stroke="#333" stroke-width="0.9" />
<text x="534.00" y="509.00" font-size="8.4" text-anchor="end" fill="#0d0d0d" >abscisic acid binding</text>
<rect x="541.70" y="512.48" width="18.80" height="5.60" fill="#f48a60" />
<line x1="539.10" y1="515.28" x2="541.70" y2="515.28" stroke="#333" stroke-width="0.9" />
<text x="534.00" y="517.58" font-size="8.4" text-anchor="end" fill="#0d0d0d" >glutathione catabolic process</text>
<rect x="541.70" y="521.06" width="17.60" height="5.60" fill="#f48a60" />
<line x1="539.10" y1="523.86" x2="541.70" y2="523.86" stroke="#333" stroke-width="0.9" />
<text x="534.00" y="526.16" font-size="8.4" text-anchor="end" fill="#0d0d0d" >ent-kaurene oxidase activity</text>
<rect x="541.70" y="529.64" width="17.30" height="5.60" fill="#f48a60" />
<line x1="539.10" y1="532.44" x2="541.70" y2="532.44" stroke="#333" stroke-width="0.9" />
<text x="534.00" y="534.74" font-size="8.4" text-anchor="end" fill="#0d0d0d" >multicellular organism development</text>
<rect x="541.70" y="538.22" width="8.40" height="5.60" fill="#f48a60" />
<line x1="539.10" y1="541.02" x2="541.70" y2="541.02" stroke="#333" stroke-width="0.9" />
<text x="534.00" y="543.32" font-size="8.4" text-anchor="end" fill="#0d0d0d" >cytokinin dehydrogenase activity</text>
<rect x="541.70" y="458.40" width="128.80" height="87.20" fill="none" stroke="#333" stroke-width="0.9"/>
<rect x="670.50" y="458.40" width="13.30" height="87.20" fill="none" stroke="#333" stroke-width="0.9"/>
<text transform="translate(673.1,498.10) rotate(90)" font-size="8.5" text-anchor="middle" fill="#0d0d0d">MF</text>
<line x1="541.90" y1="545.60" x2="541.90" y2="548.20" stroke="#333" stroke-width="0.9" />
<text x="542.60" y="558.90" font-size="8.3" text-anchor="middle" fill="#0d0d0d" >0</text>
<line x1="580.20" y1="545.60" x2="580.20" y2="548.20" stroke="#333" stroke-width="0.9" />
<text x="580.90" y="558.90" font-size="8.3" text-anchor="middle" fill="#0d0d0d" >10</text>
<line x1="618.50" y1="545.60" x2="618.50" y2="548.20" stroke="#333" stroke-width="0.9" />
<text x="619.20" y="558.90" font-size="8.3" text-anchor="middle" fill="#0d0d0d" >20</text>
<line x1="656.80" y1="545.60" x2="656.80" y2="548.20" stroke="#333" stroke-width="0.9" />
<text x="657.50" y="558.90" font-size="8.3" text-anchor="middle" fill="#0d0d0d" >30</text>
<text x="606.2" y="570.4" font-size="8.3" text-anchor="middle" fill="#0d0d0d">-Log<tspan font-size="5" dy="1.5">10</tspan><tspan dy="-1.5"> (</tspan><tspan font-style="italic">P</tspan> value)</text>
<text x="-0.8" y="593.2" font-size="17.5" font-weight="bold" fill="#000">d</text>
<line x1="36.00" y1="586.20" x2="36.00" y2="788.40" stroke="#a0a0a0" stroke-width="1.8" />
<line x1="36.00" y1="788.00" x2="238.80" y2="788.00" stroke="#a0a0a0" stroke-width="1.4" />
<line x1="33.30" y1="787.50" x2="36.00" y2="787.50" stroke="#555" stroke-width="0.9" />
<text transform="translate(31.50,790.50) scale(0.86,1)" font-size="8.6" text-anchor="end" fill="#0d0d0d">0</text>
<line x1="33.30" y1="737.30" x2="36.00" y2="737.30" stroke="#555" stroke-width="0.9" />
<text transform="translate(31.50,740.30) scale(0.86,1)" font-size="8.6" text-anchor="end" fill="#0d0d0d">50</text>
<line x1="33.30" y1="687.10" x2="36.00" y2="687.10" stroke="#555" stroke-width="0.9" />
<text transform="translate(31.50,690.10) scale(0.86,1)" font-size="8.6" text-anchor="end" fill="#0d0d0d">100</text>
<line x1="33.30" y1="636.90" x2="36.00" y2="636.90" stroke="#555" stroke-width="0.9" />
<text transform="translate(31.50,639.90) scale(0.86,1)" font-size="8.6" text-anchor="end" fill="#0d0d0d">150</text>
<line x1="33.30" y1="586.70" x2="36.00" y2="586.70" stroke="#555" stroke-width="0.9" />
<text transform="translate(31.50,589.70) scale(0.86,1)" font-size="8.6" text-anchor="end" fill="#0d0d0d">200</text>
<rect x="46.20" y="782.00" width="8.70" height="6.00" fill="#f7827c" />
<rect x="56.15" y="782.00" width="8.70" height="6.00" fill="#80a6c5" />
<rect x="66.10" y="780.00" width="8.70" height="8.00" fill="#f7b06c" />
<rect x="76.05" y="782.00" width="8.70" height="6.00" fill="#9fdfd2" />
<text transform="translate(63.80,799.90) scale(0.9,1)" font-size="8.8" text-anchor="middle" fill="#0d0d0d">DHAR</text>
<rect x="96.00" y="607.70" width="8.70" height="180.30" fill="#f7827c" />
<rect x="105.95" y="642.00" width="8.70" height="146.00" fill="#80a6c5" />
<rect x="115.90" y="637.00" width="8.70" height="151.00" fill="#f7b06c" />
<rect x="125.85" y="631.90" width="8.70" height="156.10" fill="#9fdfd2" />
<text transform="translate(116.10,799.90) scale(0.9,1)" font-size="8.8" text-anchor="middle" fill="#0d0d0d">Tau</text>
<rect x="145.00" y="735.10" width="8.70" height="52.90" fill="#f7827c" />
<rect x="154.95" y="723.90" width="8.70" height="64.10" fill="#80a6c5" />
<rect x="164.90" y="726.00" width="8.70" height="62.00" fill="#f7b06c" />
<rect x="174.85" y="723.10" width="8.70" height="64.90" fill="#9fdfd2" />
<text transform="translate(164.50,799.90) scale(0.9,1)" font-size="8.8" text-anchor="middle" fill="#0d0d0d">Phi</text>
<rect x="193.00" y="777.90" width="8.70" height="10.10" fill="#f7827c" />
<rect x="202.95" y="779.00" width="8.70" height="9.00" fill="#80a6c5" />
<rect x="212.90" y="783.00" width="8.70" height="5.00" fill="#f7b06c" />
<rect x="222.85" y="781.00" width="8.70" height="7.00" fill="#9fdfd2" />
<text transform="translate(212.20,799.90) scale(0.9,1)" font-size="8.8" text-anchor="middle" fill="#0d0d0d">Lambda</text>
<rect x="43.90" y="589.60" width="7.60" height="7.30" fill="#f7827c" />
<text x="53.40" y="596.40" font-size="8.3" text-anchor="start" fill="#0d0d0d" >W1004</text>
<rect x="86.60" y="589.60" width="7.60" height="7.30" fill="#80a6c5" />
<text x="94.90" y="596.40" font-size="8.3" text-anchor="start" fill="#0d0d0d" >Sang</text>
<rect x="121.60" y="589.60" width="7.60" height="7.30" fill="#f7b06c" />
<text x="129.80" y="596.40" font-size="8.3" text-anchor="start" fill="#0d0d0d" >Sanfensan</text>
<rect x="175.80" y="589.60" width="7.60" height="7.30" fill="#9fdfd2" />
<text x="184.20" y="596.40" font-size="8.3" text-anchor="start" fill="#0d0d0d" >OT3098</text>
<text x="221.9" y="593.7" font-size="17.5" font-weight="bold" fill="#000">e</text>
<line x1="254.60" y1="587.80" x2="254.60" y2="787.80" stroke="#333" stroke-width="1.1" />
<line x1="254.60" y1="787.30" x2="422.10" y2="787.30" stroke="#333" stroke-width="1.1" />
<line x1="252.40" y1="787.30" x2="254.60" y2="787.30" stroke="#333" stroke-width="1.0" />
<text transform="translate(251.40,790.30) scale(0.86,1)" font-size="8.6" text-anchor="end" fill="#0d0d0d">40</text>
<line x1="252.40" y1="737.58" x2="254.60" y2="737.58" stroke="#333" stroke-width="1.0" />
<text transform="translate(251.40,740.58) scale(0.86,1)" font-size="8.6" text-anchor="end" fill="#0d0d0d">60</text>
<line x1="252.40" y1="687.86" x2="254.60" y2="687.86" stroke="#333" stroke-width="1.0" />
<text transform="translate(251.40,690.86) scale(0.86,1)" font-size="8.6" text-anchor="end" fill="#0d0d0d">80</text>
<line x1="252.40" y1="638.14" x2="254.60" y2="638.14" stroke="#333" stroke-width="1.0" />
<text transform="translate(251.40,641.14) scale(0.86,1)" font-size="8.6" text-anchor="end" fill="#0d0d0d">100</text>
<line x1="252.40" y1="588.42" x2="254.60" y2="588.42" stroke="#333" stroke-width="1.0" />
<text transform="translate(251.40,591.42) scale(0.86,1)" font-size="8.6" text-anchor="end" fill="#0d0d0d">120</text>
<rect x="265.90" y="670.46" width="9.00" height="116.84" fill="#f7827c" />
<rect x="276.35" y="687.86" width="9.00" height="99.44" fill="#80a6c5" />
<rect x="286.80" y="677.92" width="9.00" height="109.38" fill="#f7b06c" />
<rect x="297.25" y="670.46" width="9.00" height="116.84" fill="#9fdfd2" />
<text transform="translate(285.50,799.60) scale(0.9,1)" font-size="8.8" text-anchor="middle" fill="#0d0d0d">A</text>
<rect x="318.40" y="720.18" width="9.00" height="67.12" fill="#f7827c" />
<rect x="328.85" y="735.09" width="9.00" height="52.21" fill="#80a6c5" />
<rect x="339.30" y="725.15" width="9.00" height="62.15" fill="#f7b06c" />
<rect x="349.75" y="740.07" width="9.00" height="47.23" fill="#9fdfd2" />
<text transform="translate(337.60,799.60) scale(0.9,1)" font-size="8.8" text-anchor="middle" fill="#0d0d0d">C</text>
<rect x="370.90" y="613.28" width="9.00" height="174.02" fill="#f7827c" />
<rect x="381.35" y="650.57" width="9.00" height="136.73" fill="#80a6c5" />
<rect x="391.80" y="640.63" width="9.00" height="146.67" fill="#f7b06c" />
<rect x="402.25" y="640.63" width="9.00" height="146.67" fill="#9fdfd2" />
<text transform="translate(390.60,799.60) scale(0.9,1)" font-size="8.8" text-anchor="middle" fill="#0d0d0d">D</text>
<rect x="264.80" y="590.70" width="7.10" height="7.00" fill="#f7827c" />
<text x="275.30" y="597.20" font-size="8.3" text-anchor="start" fill="#0d0d0d" >W1004</text>
<rect x="323.20" y="590.70" width="7.10" height="7.00" fill="#80a6c5" />
<text x="333.70" y="597.20" font-size="8.3" text-anchor="start" fill="#0d0d0d" >Sang</text>
<rect x="264.80" y="604.90" width="7.10" height="7.00" fill="#f7b06c" />
<text x="275.30" y="611.40" font-size="8.3" text-anchor="start" fill="#0d0d0d" >Sanfensan</text>
<rect x="323.20" y="604.90" width="7.10" height="7.00" fill="#9fdfd2" />
<text x="333.70" y="611.40" font-size="8.3" text-anchor="start" fill="#0d0d0d" >OT3098</text>
<text x="414.0" y="593.7" font-size="17.5" font-weight="bold" fill="#000">f</text>
<line x1="447.90" y1="593.40" x2="447.90" y2="787.60" stroke="#333" stroke-width="1.0" />
<line x1="444.00" y1="593.40" x2="447.90" y2="593.40" stroke="#333" stroke-width="1.0" />
<text transform="translate(440.0,599.40) rotate(-90)" font-size="8.6" fill="#0d0d0d">0 Mb</text>
<line x1="444.00" y1="632.24" x2="447.90" y2="632.24" stroke="#333" stroke-width="1.0" />
<text transform="translate(440.0,638.24) rotate(-90)" font-size="8.6" fill="#0d0d0d">100 Mb</text>
<line x1="444.00" y1="671.08" x2="447.90" y2="671.08" stroke="#333" stroke-width="1.0" />
<text transform="translate(440.0,677.08) rotate(-90)" font-size="8.6" fill="#0d0d0d">200 Mb</text>
<line x1="444.00" y1="709.92" x2="447.90" y2="709.92" stroke="#333" stroke-width="1.0" />
<text transform="translate(440.0,715.92) rotate(-90)" font-size="8.6" fill="#0d0d0d">300 Mb</text>
<line x1="444.00" y1="748.76" x2="447.90" y2="748.76" stroke="#333" stroke-width="1.0" />
<text transform="translate(440.0,754.76) rotate(-90)" font-size="8.6" fill="#0d0d0d">400 Mb</text>
<line x1="444.00" y1="787.60" x2="447.90" y2="787.60" stroke="#333" stroke-width="1.0" />
<text transform="translate(440.0,793.60) rotate(-90)" font-size="8.6" fill="#0d0d0d">500 Mb</text>
<rect x="458.50" y="593.70" width="9.60" height="186.30" fill="#ea7b77" rx="1.8"/>
<line x1="458.50" y1="686.00" x2="468.10" y2="686.00" stroke="#c8504f" stroke-width="0.8" stroke-opacity="0.55"/>
<line x1="458.50" y1="693.30" x2="468.10" y2="693.30" stroke="#c8504f" stroke-width="0.8" stroke-opacity="0.55"/>
<line x1="458.50" y1="699.80" x2="468.10" y2="699.80" stroke="#c8504f" stroke-width="0.8" stroke-opacity="0.55"/>
<line x1="458.50" y1="716.60" x2="468.10" y2="716.60" stroke="#c8504f" stroke-width="0.8" stroke-opacity="0.55"/>
<line x1="458.50" y1="733.50" x2="468.10" y2="733.50" stroke="#c8504f" stroke-width="0.8" stroke-opacity="0.55"/>
<line x1="458.50" y1="740.00" x2="468.10" y2="740.00" stroke="#c8504f" stroke-width="0.8" stroke-opacity="0.55"/>
<line x1="458.50" y1="750.30" x2="468.10" y2="750.30" stroke="#c8504f" stroke-width="0.8" stroke-opacity="0.55"/>
<line x1="458.50" y1="770.80" x2="468.10" y2="770.80" stroke="#c8504f" stroke-width="0.8" stroke-opacity="0.55"/>
<line x1="458.50" y1="773.60" x2="468.10" y2="773.60" stroke="#c8504f" stroke-width="0.8" stroke-opacity="0.55"/>
<path d="M468.1,686.0L469.3,686.0L474.0,658.2L477.4,658.2 M468.1,686.0L469.3,686.0L474.0,662.3L477.4,662.3 M468.1,686.0L469.3,686.0L474.0,666.5L477.4,666.5 M468.1,686.0L469.3,686.0L474.0,670.6L477.4,670.6 M468.1,686.0L469.3,686.0L474.0,674.7L477.4,674.7 M468.1,686.0L469.3,686.0L474.0,678.8L477.4,678.8 M468.1,686.0L469.3,686.0L474.0,682.9L477.4,682.9 M468.1,686.0L469.3,686.0L474.0,687.0L477.4,687.0 M468.1,686.0L469.3,686.0L474.0,691.1L477.4,691.1 M468.1,686.0L469.3,686.0L474.0,695.2L477.4,695.2 M468.1,693.3L469.3,693.3L474.0,699.3L477.4,699.3 M468.1,693.3L469.3,693.3L474.0,703.5L477.4,703.5 M468.1,693.3L469.3,693.3L474.0,707.6L477.4,707.6 M468.1,699.8L469.3,699.8L474.0,711.7L477.4,711.7 M468.1,699.8L469.3,699.8L474.0,715.8L477.4,715.8 M468.1,699.8L469.3,699.8L474.0,719.9L477.4,719.9 M468.1,716.6L469.3,716.6L474.0,724.0L477.4,724.0 M468.1,716.6L469.3,716.6L474.0,728.1L477.4,728.1 M468.1,733.5L469.3,733.5L474.0,732.2L477.4,732.2 M468.1,733.5L469.3,733.5L474.0,736.4L477.4,736.4 M468.1,733.5L469.3,733.5L474.0,740.5L477.4,740.5 M468.1,740.0L469.3,740.0L474.0,744.6L477.4,744.6 M468.1,740.0L469.3,740.0L474.0,748.7L477.4,748.7 M468.1,740.0L469.3,740.0L474.0,752.8L477.4,752.8 M468.1,750.3L469.3,750.3L474.0,756.9L477.4,756.9 M468.1,750.3L469.3,750.3L474.0,761.0L477.4,761.0 M468.1,750.3L469.3,750.3L474.0,765.1L477.4,765.1 M468.1,770.8L469.3,770.8L474.0,769.3L477.4,769.3 M468.1,770.8L469.3,770.8L474.0,773.4L477.4,773.4 M468.1,770.8L469.3,770.8L474.0,777.5L477.4,777.5 M468.1,773.6L469.3,773.6L474.0,781.6L477.4,781.6 M468.1,773.6L469.3,773.6L474.0,785.7L477.4,785.7" fill="none" stroke="#6a6a6a" stroke-width="0.5"/>
<circle cx="477.40" cy="658.23" r="1.8" fill="#ea7b77"/>
<circle cx="477.40" cy="662.34" r="1.8" fill="#ea7b77"/>
<circle cx="477.40" cy="666.45" r="1.8" fill="#ea7b77"/>
<circle cx="477.40" cy="670.56" r="1.8" fill="#ea7b77"/>
<circle cx="477.40" cy="674.68" r="1.8" fill="#ea7b77"/>
<circle cx="477.40" cy="678.79" r="1.8" fill="#ea7b77"/>
<circle cx="477.40" cy="682.90" r="1.8" fill="#ea7b77"/>
<circle cx="477.40" cy="687.01" r="1.8" fill="#ea7b77"/>
<circle cx="477.40" cy="691.12" r="1.8" fill="#ea7b77"/>
<circle cx="477.40" cy="695.24" r="1.8" fill="#ea7b77"/>
<circle cx="477.40" cy="699.35" r="1.8" fill="#ea7b77"/>
<circle cx="477.40" cy="703.46" r="1.8" fill="#ea7b77"/>
<circle cx="477.40" cy="707.57" r="1.8" fill="#ea7b77"/>
<circle cx="477.40" cy="711.68" r="1.8" fill="#ea7b77"/>
<circle cx="477.40" cy="715.80" r="1.8" fill="#ea7b77"/>
<circle cx="477.40" cy="719.91" r="1.8" fill="#ea7b77"/>
<circle cx="477.40" cy="724.02" r="1.8" fill="#ea7b77"/>
<circle cx="477.40" cy="728.13" r="1.8" fill="#ea7b77"/>
<circle cx="477.40" cy="732.24" r="1.8" fill="#ea7b77"/>
<circle cx="477.40" cy="736.36" r="1.8" fill="#ea7b77"/>
<circle cx="477.40" cy="740.47" r="1.8" fill="#ea7b77"/>
<circle cx="477.40" cy="744.58" r="1.8" fill="#ea7b77"/>
<circle cx="477.40" cy="748.69" r="1.8" fill="#ea7b77"/>
<circle cx="477.40" cy="752.80" r="1.8" fill="#ea7b77"/>
<circle cx="477.40" cy="756.92" r="1.8" fill="#ea7b77"/>
<circle cx="477.40" cy="761.03" r="1.8" fill="#ea7b77"/>
<circle cx="477.40" cy="765.14" r="1.8" fill="#ea7b77"/>
<circle cx="477.40" cy="769.25" r="1.8" fill="#ea7b77"/>
<circle cx="477.40" cy="773.36" r="1.8" fill="#ea7b77"/>
<circle cx="477.40" cy="777.48" r="1.8" fill="#ea7b77"/>
<circle cx="477.40" cy="781.59" r="1.8" fill="#ea7b77"/>
<circle cx="477.40" cy="785.70" r="1.8" fill="#ea7b77"/>
<text x="463.00" y="788.50" font-size="8.3" text-anchor="middle" fill="#0d0d0d" >32</text>
<rect x="486.90" y="593.70" width="9.60" height="181.60" fill="#7fa4c3" rx="1.8"/>
<line x1="486.90" y1="684.90" x2="496.50" y2="684.90" stroke="#a86a70" stroke-width="0.8" stroke-opacity="0.55"/>
<line x1="486.90" y1="685.80" x2="496.50" y2="685.80" stroke="#a86a70" stroke-width="0.8" stroke-opacity="0.55"/>
<line x1="486.90" y1="692.30" x2="496.50" y2="692.30" stroke="#a86a70" stroke-width="0.8" stroke-opacity="0.55"/>
<line x1="486.90" y1="699.80" x2="496.50" y2="699.80" stroke="#a86a70" stroke-width="0.8" stroke-opacity="0.55"/>
<line x1="486.90" y1="725.00" x2="496.50" y2="725.00" stroke="#a86a70" stroke-width="0.8" stroke-opacity="0.55"/>
<line x1="486.90" y1="738.10" x2="496.50" y2="738.10" stroke="#a86a70" stroke-width="0.8" stroke-opacity="0.55"/>
<line x1="486.90" y1="745.60" x2="496.50" y2="745.60" stroke="#a86a70" stroke-width="0.8" stroke-opacity="0.55"/>
<line x1="486.90" y1="766.20" x2="496.50" y2="766.20" stroke="#a86a70" stroke-width="0.8" stroke-opacity="0.55"/>
<line x1="486.90" y1="769.00" x2="496.50" y2="769.00" stroke="#a86a70" stroke-width="0.8" stroke-opacity="0.55"/>
<path d="M496.5,684.9L497.7,684.9L502.4,695.2L505.8,695.2 M496.5,684.9L497.7,684.9L502.4,699.3L505.8,699.3 M496.5,684.9L497.7,684.9L502.4,703.5L505.8,703.5 M496.5,684.9L497.7,684.9L502.4,707.6L505.8,707.6 M496.5,684.9L497.7,684.9L502.4,711.7L505.8,711.7 M496.5,684.9L497.7,684.9L502.4,715.8L505.8,715.8 M496.5,685.8L497.7,685.8L502.4,719.9L505.8,719.9 M496.5,685.8L497.7,685.8L502.4,724.0L505.8,724.0 M496.5,685.8L497.7,685.8L502.4,728.1L505.8,728.1 M496.5,692.3L497.7,692.3L502.4,732.2L505.8,732.2 M496.5,692.3L497.7,692.3L502.4,736.4L505.8,736.4 M496.5,692.3L497.7,692.3L502.4,740.5L505.8,740.5 M496.5,699.8L497.7,699.8L502.4,744.6L505.8,744.6 M496.5,699.8L497.7,699.8L502.4,748.7L505.8,748.7 M496.5,725.0L497.7,725.0L502.4,752.8L505.8,752.8 M496.5,725.0L497.7,725.0L502.4,756.9L505.8,756.9 M496.5,738.1L497.7,738.1L502.4,761.0L505.8,761.0 M496.5,738.1L497.7,738.1L502.4,765.1L505.8,765.1 M496.5,745.6L497.7,745.6L502.4,769.3L505.8,769.3 M496.5,745.6L497.7,745.6L502.4,773.4L505.8,773.4 M496.5,766.2L497.7,766.2L502.4,777.5L505.8,777.5 M496.5,766.2L497.7,766.2L502.4,781.6L505.8,781.6 M496.5,769.0L497.7,769.0L502.4,785.7L505.8,785.7" fill="none" stroke="#6a6a6a" stroke-width="0.5"/>
<circle cx="505.80" cy="695.24" r="1.8" fill="#7fa4c3"/>
<circle cx="505.80" cy="699.35" r="1.8" fill="#7fa4c3"/>
<circle cx="505.80" cy="703.46" r="1.8" fill="#7fa4c3"/>
<circle cx="505.80" cy="707.57" r="1.8" fill="#7fa4c3"/>
<circle cx="505.80" cy="711.68" r="1.8" fill="#7fa4c3"/>
<circle cx="505.80" cy="715.80" r="1.8" fill="#7fa4c3"/>
<circle cx="505.80" cy="719.91" r="1.8" fill="#7fa4c3"/>
<circle cx="505.80" cy="724.02" r="1.8" fill="#7fa4c3"/>
<circle cx="505.80" cy="728.13" r="1.8" fill="#7fa4c3"/>
<circle cx="505.80" cy="732.24" r="1.8" fill="#7fa4c3"/>
<circle cx="505.80" cy="736.36" r="1.8" fill="#7fa4c3"/>
<circle cx="505.80" cy="740.47" r="1.8" fill="#7fa4c3"/>
<circle cx="505.80" cy="744.58" r="1.8" fill="#7fa4c3"/>
<circle cx="505.80" cy="748.69" r="1.8" fill="#7fa4c3"/>
<circle cx="505.80" cy="752.80" r="1.8" fill="#7fa4c3"/>
<circle cx="505.80" cy="756.92" r="1.8" fill="#7fa4c3"/>
<circle cx="505.80" cy="761.03" r="1.8" fill="#7fa4c3"/>
<circle cx="505.80" cy="765.14" r="1.8" fill="#7fa4c3"/>
<circle cx="505.80" cy="769.25" r="1.8" fill="#7fa4c3"/>
<circle cx="505.80" cy="773.36" r="1.8" fill="#7fa4c3"/>
<circle cx="505.80" cy="777.48" r="1.8" fill="#7fa4c3"/>
<circle cx="505.80" cy="781.59" r="1.8" fill="#7fa4c3"/>
<circle cx="505.80" cy="785.70" r="1.8" fill="#7fa4c3"/>
<text x="491.40" y="783.80" font-size="8.3" text-anchor="middle" fill="#0d0d0d" >23</text>
<rect x="515.00" y="593.70" width="9.60" height="183.10" fill="#efaa69" rx="1.8"/>
<line x1="515.00" y1="684.90" x2="524.60" y2="684.90" stroke="#d0644a" stroke-width="0.8" stroke-opacity="0.55"/>
<line x1="515.00" y1="686.40" x2="524.60" y2="686.40" stroke="#d0644a" stroke-width="0.8" stroke-opacity="0.55"/>
<line x1="515.00" y1="692.30" x2="524.60" y2="692.30" stroke="#d0644a" stroke-width="0.8" stroke-opacity="0.55"/>
<line x1="515.00" y1="700.20" x2="524.60" y2="700.20" stroke="#d0644a" stroke-width="0.8" stroke-opacity="0.55"/>
<line x1="515.00" y1="725.00" x2="524.60" y2="725.00" stroke="#d0644a" stroke-width="0.8" stroke-opacity="0.55"/>
<line x1="515.00" y1="731.60" x2="524.60" y2="731.60" stroke="#d0644a" stroke-width="0.8" stroke-opacity="0.55"/>
<line x1="515.00" y1="737.20" x2="524.60" y2="737.20" stroke="#d0644a" stroke-width="0.8" stroke-opacity="0.55"/>
<line x1="515.00" y1="746.20" x2="524.60" y2="746.20" stroke="#d0644a" stroke-width="0.8" stroke-opacity="0.55"/>
<line x1="515.00" y1="767.10" x2="524.60" y2="767.10" stroke="#d0644a" stroke-width="0.8" stroke-opacity="0.55"/>
<line x1="515.00" y1="769.90" x2="524.60" y2="769.90" stroke="#d0644a" stroke-width="0.8" stroke-opacity="0.55"/>
<path d="M524.6,684.9L525.8,684.9L530.5,682.9L533.9,682.9 M524.6,684.9L525.8,684.9L530.5,687.0L533.9,687.0 M524.6,684.9L525.8,684.9L530.5,691.1L533.9,691.1 M524.6,684.9L525.8,684.9L530.5,695.2L533.9,695.2 M524.6,684.9L525.8,684.9L530.5,699.3L533.9,699.3 M524.6,684.9L525.8,684.9L530.5,703.5L533.9,703.5 M524.6,686.4L525.8,686.4L530.5,707.6L533.9,707.6 M524.6,686.4L525.8,686.4L530.5,711.7L533.9,711.7 M524.6,686.4L525.8,686.4L530.5,715.8L533.9,715.8 M524.6,692.3L525.8,692.3L530.5,719.9L533.9,719.9 M524.6,692.3L525.8,692.3L530.5,724.0L533.9,724.0 M524.6,692.3L525.8,692.3L530.5,728.1L533.9,728.1 M524.6,700.2L525.8,700.2L530.5,732.2L533.9,732.2 M524.6,700.2L525.8,700.2L530.5,736.4L533.9,736.4 M524.6,725.0L525.8,725.0L530.5,740.5L533.9,740.5 M524.6,725.0L525.8,725.0L530.5,744.6L533.9,744.6 M524.6,731.6L525.8,731.6L530.5,748.7L533.9,748.7 M524.6,731.6L525.8,731.6L530.5,752.8L533.9,752.8 M524.6,737.2L525.8,737.2L530.5,756.9L533.9,756.9 M524.6,737.2L525.8,737.2L530.5,761.0L533.9,761.0 M524.6,746.2L525.8,746.2L530.5,765.1L533.9,765.1 M524.6,746.2L525.8,746.2L530.5,769.3L533.9,769.3 M524.6,767.1L525.8,767.1L530.5,773.4L533.9,773.4 M524.6,767.1L525.8,767.1L530.5,777.5L533.9,777.5 M524.6,769.9L525.8,769.9L530.5,781.6L533.9,781.6 M524.6,769.9L525.8,769.9L530.5,785.7L533.9,785.7" fill="none" stroke="#6a6a6a" stroke-width="0.5"/>
<circle cx="533.90" cy="682.90" r="1.8" fill="#efaa69"/>
<circle cx="533.90" cy="687.01" r="1.8" fill="#efaa69"/>
<circle cx="533.90" cy="691.12" r="1.8" fill="#efaa69"/>
<circle cx="533.90" cy="695.24" r="1.8" fill="#efaa69"/>
<circle cx="533.90" cy="699.35" r="1.8" fill="#efaa69"/>
<circle cx="533.90" cy="703.46" r="1.8" fill="#efaa69"/>
<circle cx="533.90" cy="707.57" r="1.8" fill="#efaa69"/>
<circle cx="533.90" cy="711.68" r="1.8" fill="#efaa69"/>
<circle cx="533.90" cy="715.80" r="1.8" fill="#efaa69"/>
<circle cx="533.90" cy="719.91" r="1.8" fill="#efaa69"/>
<circle cx="533.90" cy="724.02" r="1.8" fill="#efaa69"/>
<circle cx="533.90" cy="728.13" r="1.8" fill="#efaa69"/>
<circle cx="533.90" cy="732.24" r="1.8" fill="#efaa69"/>
<circle cx="533.90" cy="736.36" r="1.8" fill="#efaa69"/>
<circle cx="533.90" cy="740.47" r="1.8" fill="#efaa69"/>
<circle cx="533.90" cy="744.58" r="1.8" fill="#efaa69"/>
<circle cx="533.90" cy="748.69" r="1.8" fill="#efaa69"/>
<circle cx="533.90" cy="752.80" r="1.8" fill="#efaa69"/>
<circle cx="533.90" cy="756.92" r="1.8" fill="#efaa69"/>
<circle cx="533.90" cy="761.03" r="1.8" fill="#efaa69"/>
<circle cx="533.90" cy="765.14" r="1.8" fill="#efaa69"/>
<circle cx="533.90" cy="769.25" r="1.8" fill="#efaa69"/>
<circle cx="533.90" cy="773.36" r="1.8" fill="#efaa69"/>
<circle cx="533.90" cy="777.48" r="1.8" fill="#efaa69"/>
<circle cx="533.90" cy="781.59" r="1.8" fill="#efaa69"/>
<circle cx="533.90" cy="785.70" r="1.8" fill="#efaa69"/>
<text x="519.50" y="785.30" font-size="8.3" text-anchor="middle" fill="#0d0d0d" >26</text>
<rect x="543.30" y="593.70" width="9.60" height="186.90" fill="#92d4c6" rx="1.8"/>
<line x1="543.30" y1="685.80" x2="552.90" y2="685.80" stroke="#b88a7a" stroke-width="0.8" stroke-opacity="0.55"/>
<line x1="543.30" y1="686.70" x2="552.90" y2="686.70" stroke="#b88a7a" stroke-width="0.8" stroke-opacity="0.55"/>
<line x1="543.30" y1="703.60" x2="552.90" y2="703.60" stroke="#b88a7a" stroke-width="0.8" stroke-opacity="0.55"/>
<line x1="543.30" y1="729.30" x2="552.90" y2="729.30" stroke="#b88a7a" stroke-width="0.8" stroke-opacity="0.55"/>
<line x1="543.30" y1="735.30" x2="552.90" y2="735.30" stroke="#b88a7a" stroke-width="0.8" stroke-opacity="0.55"/>
<line x1="543.30" y1="741.90" x2="552.90" y2="741.90" stroke="#b88a7a" stroke-width="0.8" stroke-opacity="0.55"/>
<line x1="543.30" y1="750.30" x2="552.90" y2="750.30" stroke="#b88a7a" stroke-width="0.8" stroke-opacity="0.55"/>
<line x1="543.30" y1="770.80" x2="552.90" y2="770.80" stroke="#b88a7a" stroke-width="0.8" stroke-opacity="0.55"/>
<line x1="543.30" y1="774.20" x2="552.90" y2="774.20" stroke="#b88a7a" stroke-width="0.8" stroke-opacity="0.55"/>
<path d="M552.9,685.8L554.1,685.8L558.8,691.1L562.2,691.1 M552.9,685.8L554.1,685.8L558.8,695.2L562.2,695.2 M552.9,685.8L554.1,685.8L558.8,699.3L562.2,699.3 M552.9,685.8L554.1,685.8L558.8,703.5L562.2,703.5 M552.9,685.8L554.1,685.8L558.8,707.6L562.2,707.6 M552.9,685.8L554.1,685.8L558.8,711.7L562.2,711.7 M552.9,686.7L554.1,686.7L558.8,715.8L562.2,715.8 M552.9,686.7L554.1,686.7L558.8,719.9L562.2,719.9 M552.9,686.7L554.1,686.7L558.8,724.0L562.2,724.0 M552.9,703.6L554.1,703.6L558.8,728.1L562.2,728.1 M552.9,703.6L554.1,703.6L558.8,732.2L562.2,732.2 M552.9,729.3L554.1,729.3L558.8,736.4L562.2,736.4 M552.9,729.3L554.1,729.3L558.8,740.5L562.2,740.5 M552.9,735.3L554.1,735.3L558.8,744.6L562.2,744.6 M552.9,735.3L554.1,735.3L558.8,748.7L562.2,748.7 M552.9,741.9L554.1,741.9L558.8,752.8L562.2,752.8 M552.9,741.9L554.1,741.9L558.8,756.9L562.2,756.9 M552.9,750.3L554.1,750.3L558.8,761.0L562.2,761.0 M552.9,750.3L554.1,750.3L558.8,765.1L562.2,765.1 M552.9,770.8L554.1,770.8L558.8,769.3L562.2,769.3 M552.9,770.8L554.1,770.8L558.8,773.4L562.2,773.4 M552.9,770.8L554.1,770.8L558.8,777.5L562.2,777.5 M552.9,774.2L554.1,774.2L558.8,781.6L562.2,781.6 M552.9,774.2L554.1,774.2L558.8,785.7L562.2,785.7" fill="none" stroke="#6a6a6a" stroke-width="0.5"/>
<circle cx="562.20" cy="691.12" r="1.8" fill="#92d4c6"/>
<circle cx="562.20" cy="695.24" r="1.8" fill="#92d4c6"/>
<circle cx="562.20" cy="699.35" r="1.8" fill="#92d4c6"/>
<circle cx="562.20" cy="703.46" r="1.8" fill="#92d4c6"/>
<circle cx="562.20" cy="707.57" r="1.8" fill="#92d4c6"/>
<circle cx="562.20" cy="711.68" r="1.8" fill="#92d4c6"/>
<circle cx="562.20" cy="715.80" r="1.8" fill="#92d4c6"/>
<circle cx="562.20" cy="719.91" r="1.8" fill="#92d4c6"/>
<circle cx="562.20" cy="724.02" r="1.8" fill="#92d4c6"/>
<circle cx="562.20" cy="728.13" r="1.8" fill="#92d4c6"/>
<circle cx="562.20" cy="732.24" r="1.8" fill="#92d4c6"/>
<circle cx="562.20" cy="736.36" r="1.8" fill="#92d4c6"/>
<circle cx="562.20" cy="740.47" r="1.8" fill="#92d4c6"/>
<circle cx="562.20" cy="744.58" r="1.8" fill="#92d4c6"/>
<circle cx="562.20" cy="748.69" r="1.8" fill="#92d4c6"/>
<circle cx="562.20" cy="752.80" r="1.8" fill="#92d4c6"/>
<circle cx="562.20" cy="756.92" r="1.8" fill="#92d4c6"/>
<circle cx="562.20" cy="761.03" r="1.8" fill="#92d4c6"/>
<circle cx="562.20" cy="765.14" r="1.8" fill="#92d4c6"/>
<circle cx="562.20" cy="769.25" r="1.8" fill="#92d4c6"/>
<circle cx="562.20" cy="773.36" r="1.8" fill="#92d4c6"/>
<circle cx="562.20" cy="777.48" r="1.8" fill="#92d4c6"/>
<circle cx="562.20" cy="781.59" r="1.8" fill="#92d4c6"/>
<circle cx="562.20" cy="785.70" r="1.8" fill="#92d4c6"/>
<text x="547.80" y="789.10" font-size="8.3" text-anchor="middle" fill="#0d0d0d" >24</text>
<rect x="578.20" y="593.70" width="9.60" height="178.70" fill="#ea7b77" rx="1.8"/>
<line x1="578.20" y1="701.50" x2="587.80" y2="701.50" stroke="#c8504f" stroke-width="0.8" stroke-opacity="0.55"/>
<line x1="578.20" y1="719.80" x2="587.80" y2="719.80" stroke="#c8504f" stroke-width="0.8" stroke-opacity="0.55"/>
<line x1="578.20" y1="730.00" x2="587.80" y2="730.00" stroke="#c8504f" stroke-width="0.8" stroke-opacity="0.55"/>
<line x1="578.20" y1="738.70" x2="587.80" y2="738.70" stroke="#c8504f" stroke-width="0.8" stroke-opacity="0.55"/>
<line x1="578.20" y1="742.80" x2="587.80" y2="742.80" stroke="#c8504f" stroke-width="0.8" stroke-opacity="0.55"/>
<line x1="578.20" y1="747.00" x2="587.80" y2="747.00" stroke="#c8504f" stroke-width="0.8" stroke-opacity="0.55"/>
<line x1="578.20" y1="756.50" x2="587.80" y2="756.50" stroke="#c8504f" stroke-width="0.8" stroke-opacity="0.55"/>
<line x1="578.20" y1="760.80" x2="587.80" y2="760.80" stroke="#c8504f" stroke-width="0.8" stroke-opacity="0.55"/>
<line x1="578.20" y1="764.10" x2="587.80" y2="764.10" stroke="#c8504f" stroke-width="0.8" stroke-opacity="0.55"/>
<path d="M587.8,701.5L589.0,701.5L593.7,617.1L597.1,617.1 M587.8,701.5L589.0,701.5L593.7,621.2L597.1,621.2 M587.8,701.5L589.0,701.5L593.7,625.3L597.1,625.3 M587.8,701.5L589.0,701.5L593.7,629.4L597.1,629.4 M587.8,701.5L589.0,701.5L593.7,633.6L597.1,633.6 M587.8,701.5L589.0,701.5L593.7,637.7L597.1,637.7 M587.8,701.5L589.0,701.5L593.7,641.8L597.1,641.8 M587.8,701.5L589.0,701.5L593.7,645.9L597.1,645.9 M587.8,701.5L589.0,701.5L593.7,650.0L597.1,650.0 M587.8,701.5L589.0,701.5L593.7,654.1L597.1,654.1 M587.8,719.8L589.0,719.8L593.7,658.2L597.1,658.2 M587.8,719.8L589.0,719.8L593.7,662.3L597.1,662.3 M587.8,719.8L589.0,719.8L593.7,666.5L597.1,666.5 M587.8,719.8L589.0,719.8L593.7,670.6L597.1,670.6 M587.8,719.8L589.0,719.8L593.7,674.7L597.1,674.7 M587.8,730.0L589.0,730.0L593.7,678.8L597.1,678.8 M587.8,730.0L589.0,730.0L593.7,682.9L597.1,682.9 M587.8,730.0L589.0,730.0L593.7,687.0L597.1,687.0 M587.8,730.0L589.0,730.0L593.7,691.1L597.1,691.1 M587.8,730.0L589.0,730.0L593.7,695.2L597.1,695.2 M587.8,738.7L589.0,738.7L593.7,699.3L597.1,699.3 M587.8,738.7L589.0,738.7L593.7,703.5L597.1,703.5 M587.8,738.7L589.0,738.7L593.7,707.6L597.1,707.6 M587.8,738.7L589.0,738.7L593.7,711.7L597.1,711.7 M587.8,742.8L589.0,742.8L593.7,715.8L597.1,715.8 M587.8,742.8L589.0,742.8L593.7,719.9L597.1,719.9 M587.8,742.8L589.0,742.8L593.7,724.0L597.1,724.0 M587.8,742.8L589.0,742.8L593.7,728.1L597.1,728.1 M587.8,747.0L589.0,747.0L593.7,732.2L597.1,732.2 M587.8,747.0L589.0,747.0L593.7,736.4L597.1,736.4 M587.8,747.0L589.0,747.0L593.7,740.5L597.1,740.5 M587.8,747.0L589.0,747.0L593.7,744.6L597.1,744.6 M587.8,756.5L589.0,756.5L593.7,748.7L597.1,748.7 M587.8,756.5L589.0,756.5L593.7,752.8L597.1,752.8 M587.8,756.5L589.0,756.5L593.7,756.9L597.1,756.9 M587.8,756.5L589.0,756.5L593.7,761.0L597.1,761.0 M587.8,760.8L589.0,760.8L593.7,765.1L597.1,765.1 M587.8,760.8L589.0,760.8L593.7,769.3L597.1,769.3 M587.8,760.8L589.0,760.8L593.7,773.4L597.1,773.4 M587.8,764.1L589.0,764.1L593.7,777.5L597.1,777.5 M587.8,764.1L589.0,764.1L593.7,781.6L597.1,781.6 M587.8,764.1L589.0,764.1L593.7,785.7L597.1,785.7" fill="none" stroke="#6a6a6a" stroke-width="0.5"/>
<circle cx="597.10" cy="617.11" r="1.8" fill="#ea7b77"/>
<circle cx="597.10" cy="621.22" r="1.8" fill="#ea7b77"/>
<circle cx="597.10" cy="625.33" r="1.8" fill="#ea7b77"/>
<circle cx="597.10" cy="629.44" r="1.8" fill="#ea7b77"/>
<circle cx="597.10" cy="633.56" r="1.8" fill="#ea7b77"/>
<circle cx="597.10" cy="637.67" r="1.8" fill="#ea7b77"/>
<circle cx="597.10" cy="641.78" r="1.8" fill="#ea7b77"/>
<circle cx="597.10" cy="645.89" r="1.8" fill="#ea7b77"/>
<circle cx="597.10" cy="650.00" r="1.8" fill="#ea7b77"/>
<circle cx="597.10" cy="654.12" r="1.8" fill="#ea7b77"/>
<circle cx="597.10" cy="658.23" r="1.8" fill="#ea7b77"/>
<circle cx="597.10" cy="662.34" r="1.8" fill="#ea7b77"/>
<circle cx="597.10" cy="666.45" r="1.8" fill="#ea7b77"/>
<circle cx="597.10" cy="670.56" r="1.8" fill="#ea7b77"/>
<circle cx="597.10" cy="674.68" r="1.8" fill="#ea7b77"/>
<circle cx="597.10" cy="678.79" r="1.8" fill="#ea7b77"/>
<circle cx="597.10" cy="682.90" r="1.8" fill="#ea7b77"/>
<circle cx="597.10" cy="687.01" r="1.8" fill="#ea7b77"/>
<circle cx="597.10" cy="691.12" r="1.8" fill="#ea7b77"/>
<circle cx="597.10" cy="695.24" r="1.8" fill="#ea7b77"/>
<circle cx="597.10" cy="699.35" r="1.8" fill="#ea7b77"/>
<circle cx="597.10" cy="703.46" r="1.8" fill="#ea7b77"/>
<circle cx="597.10" cy="707.57" r="1.8" fill="#ea7b77"/>
<circle cx="597.10" cy="711.68" r="1.8" fill="#ea7b77"/>
<circle cx="597.10" cy="715.80" r="1.8" fill="#ea7b77"/>
<circle cx="597.10" cy="719.91" r="1.8" fill="#ea7b77"/>
<circle cx="597.10" cy="724.02" r="1.8" fill="#ea7b77"/>
<circle cx="597.10" cy="728.13" r="1.8" fill="#ea7b77"/>
<circle cx="597.10" cy="732.24" r="1.8" fill="#ea7b77"/>
<circle cx="597.10" cy="736.36" r="1.8" fill="#ea7b77"/>
<circle cx="597.10" cy="740.47" r="1.8" fill="#ea7b77"/>
<circle cx="597.10" cy="744.58" r="1.8" fill="#ea7b77"/>
<circle cx="597.10" cy="748.69" r="1.8" fill="#ea7b77"/>
<circle cx="597.10" cy="752.80" r="1.8" fill="#ea7b77"/>
<circle cx="597.10" cy="756.92" r="1.8" fill="#ea7b77"/>
<circle cx="597.10" cy="761.03" r="1.8" fill="#ea7b77"/>
<circle cx="597.10" cy="765.14" r="1.8" fill="#ea7b77"/>
<circle cx="597.10" cy="769.25" r="1.8" fill="#ea7b77"/>
<circle cx="597.10" cy="773.36" r="1.8" fill="#ea7b77"/>
<circle cx="597.10" cy="777.48" r="1.8" fill="#ea7b77"/>
<circle cx="597.10" cy="781.59" r="1.8" fill="#ea7b77"/>
<circle cx="597.10" cy="785.70" r="1.8" fill="#ea7b77"/>
<text x="582.70" y="780.90" font-size="8.3" text-anchor="middle" fill="#0d0d0d" >42</text>
<rect x="606.60" y="593.70" width="9.60" height="159.90" fill="#7fa4c3" rx="1.8"/>
<line x1="606.60" y1="688.20" x2="616.20" y2="688.20" stroke="#a86a70" stroke-width="0.8" stroke-opacity="0.55"/>
<line x1="606.60" y1="705.50" x2="616.20" y2="705.50" stroke="#a86a70" stroke-width="0.8" stroke-opacity="0.55"/>
<line x1="606.60" y1="716.20" x2="616.20" y2="716.20" stroke="#a86a70" stroke-width="0.8" stroke-opacity="0.55"/>
<line x1="606.60" y1="722.80" x2="616.20" y2="722.80" stroke="#a86a70" stroke-width="0.8" stroke-opacity="0.55"/>
<line x1="606.60" y1="729.20" x2="616.20" y2="729.20" stroke="#a86a70" stroke-width="0.8" stroke-opacity="0.55"/>
<line x1="606.60" y1="738.70" x2="616.20" y2="738.70" stroke="#a86a70" stroke-width="0.8" stroke-opacity="0.55"/>
<line x1="606.60" y1="743.50" x2="616.20" y2="743.50" stroke="#a86a70" stroke-width="0.8" stroke-opacity="0.55"/>
<path d="M616.2,688.2L617.4,688.2L622.1,645.9L625.5,645.9 M616.2,688.2L617.4,688.2L622.1,650.0L625.5,650.0 M616.2,688.2L617.4,688.2L622.1,654.1L625.5,654.1 M616.2,688.2L617.4,688.2L622.1,658.2L625.5,658.2 M616.2,688.2L617.4,688.2L622.1,662.3L625.5,662.3 M616.2,688.2L617.4,688.2L622.1,666.5L625.5,666.5 M616.2,705.5L617.4,705.5L622.1,670.6L625.5,670.6 M616.2,705.5L617.4,705.5L622.1,674.7L625.5,674.7 M616.2,705.5L617.4,705.5L622.1,678.8L625.5,678.8 M616.2,705.5L617.4,705.5L622.1,682.9L625.5,682.9 M616.2,705.5L617.4,705.5L622.1,687.0L625.5,687.0 M616.2,705.5L617.4,705.5L622.1,691.1L625.5,691.1 M616.2,716.2L617.4,716.2L622.1,695.2L625.5,695.2 M616.2,716.2L617.4,716.2L622.1,699.3L625.5,699.3 M616.2,716.2L617.4,716.2L622.1,703.5L625.5,703.5 M616.2,716.2L617.4,716.2L622.1,707.6L625.5,707.6 M616.2,716.2L617.4,716.2L622.1,711.7L625.5,711.7 M616.2,722.8L617.4,722.8L622.1,715.8L625.5,715.8 M616.2,722.8L617.4,722.8L622.1,719.9L625.5,719.9 M616.2,722.8L617.4,722.8L622.1,724.0L625.5,724.0 M616.2,722.8L617.4,722.8L622.1,728.1L625.5,728.1 M616.2,722.8L617.4,722.8L622.1,732.2L625.5,732.2 M616.2,729.2L617.4,729.2L622.1,736.4L625.5,736.4 M616.2,729.2L617.4,729.2L622.1,740.5L625.5,740.5 M616.2,729.2L617.4,729.2L622.1,744.6L625.5,744.6 M616.2,729.2L617.4,729.2L622.1,748.7L625.5,748.7 M616.2,729.2L617.4,729.2L622.1,752.8L625.5,752.8 M616.2,738.7L617.4,738.7L622.1,756.9L625.5,756.9 M616.2,738.7L617.4,738.7L622.1,761.0L625.5,761.0 M616.2,738.7L617.4,738.7L622.1,765.1L625.5,765.1 M616.2,738.7L617.4,738.7L622.1,769.3L625.5,769.3 M616.2,743.5L617.4,743.5L622.1,773.4L625.5,773.4 M616.2,743.5L617.4,743.5L622.1,777.5L625.5,777.5 M616.2,743.5L617.4,743.5L622.1,781.6L625.5,781.6 M616.2,743.5L617.4,743.5L622.1,785.7L625.5,785.7" fill="none" stroke="#6a6a6a" stroke-width="0.5"/>
<circle cx="625.50" cy="645.89" r="1.8" fill="#7fa4c3"/>
<circle cx="625.50" cy="650.00" r="1.8" fill="#7fa4c3"/>
<circle cx="625.50" cy="654.12" r="1.8" fill="#7fa4c3"/>
<circle cx="625.50" cy="658.23" r="1.8" fill="#7fa4c3"/>
<circle cx="625.50" cy="662.34" r="1.8" fill="#7fa4c3"/>
<circle cx="625.50" cy="666.45" r="1.8" fill="#7fa4c3"/>
<circle cx="625.50" cy="670.56" r="1.8" fill="#7fa4c3"/>
<circle cx="625.50" cy="674.68" r="1.8" fill="#7fa4c3"/>
<circle cx="625.50" cy="678.79" r="1.8" fill="#7fa4c3"/>
<circle cx="625.50" cy="682.90" r="1.8" fill="#7fa4c3"/>
<circle cx="625.50" cy="687.01" r="1.8" fill="#7fa4c3"/>
<circle cx="625.50" cy="691.12" r="1.8" fill="#7fa4c3"/>
<circle cx="625.50" cy="695.24" r="1.8" fill="#7fa4c3"/>
<circle cx="625.50" cy="699.35" r="1.8" fill="#7fa4c3"/>
<circle cx="625.50" cy="703.46" r="1.8" fill="#7fa4c3"/>
<circle cx="625.50" cy="707.57" r="1.8" fill="#7fa4c3"/>
<circle cx="625.50" cy="711.68" r="1.8" fill="#7fa4c3"/>
<circle cx="625.50" cy="715.80" r="1.8" fill="#7fa4c3"/>
<circle cx="625.50" cy="719.91" r="1.8" fill="#7fa4c3"/>
<circle cx="625.50" cy="724.02" r="1.8" fill="#7fa4c3"/>
<circle cx="625.50" cy="728.13" r="1.8" fill="#7fa4c3"/>
<circle cx="625.50" cy="732.24" r="1.8" fill="#7fa4c3"/>
<circle cx="625.50" cy="736.36" r="1.8" fill="#7fa4c3"/>
<circle cx="625.50" cy="740.47" r="1.8" fill="#7fa4c3"/>
<circle cx="625.50" cy="744.58" r="1.8" fill="#7fa4c3"/>
<circle cx="625.50" cy="748.69" r="1.8" fill="#7fa4c3"/>
<circle cx="625.50" cy="752.80" r="1.8" fill="#7fa4c3"/>
<circle cx="625.50" cy="756.92" r="1.8" fill="#7fa4c3"/>
<circle cx="625.50" cy="761.03" r="1.8" fill="#7fa4c3"/>
<circle cx="625.50" cy="765.14" r="1.8" fill="#7fa4c3"/>
<circle cx="625.50" cy="769.25" r="1.8" fill="#7fa4c3"/>
<circle cx="625.50" cy="773.36" r="1.8" fill="#7fa4c3"/>
<circle cx="625.50" cy="777.48" r="1.8" fill="#7fa4c3"/>
<circle cx="625.50" cy="781.59" r="1.8" fill="#7fa4c3"/>
<circle cx="625.50" cy="785.70" r="1.8" fill="#7fa4c3"/>
<text x="611.10" y="762.10" font-size="8.3" text-anchor="middle" fill="#0d0d0d" >35</text>
<rect x="634.90" y="593.70" width="9.60" height="174.60" fill="#efaa69" rx="1.8"/>
<line x1="634.90" y1="700.80" x2="644.50" y2="700.80" stroke="#d0644a" stroke-width="0.8" stroke-opacity="0.55"/>
<line x1="634.90" y1="717.40" x2="644.50" y2="717.40" stroke="#d0644a" stroke-width="0.8" stroke-opacity="0.55"/>
<line x1="634.90" y1="736.30" x2="644.50" y2="736.30" stroke="#d0644a" stroke-width="0.8" stroke-opacity="0.55"/>
<line x1="634.90" y1="740.30" x2="644.50" y2="740.30" stroke="#d0644a" stroke-width="0.8" stroke-opacity="0.55"/>
<line x1="634.90" y1="743.40" x2="644.50" y2="743.40" stroke="#d0644a" stroke-width="0.8" stroke-opacity="0.55"/>
<line x1="634.90" y1="757.70" x2="644.50" y2="757.70" stroke="#d0644a" stroke-width="0.8" stroke-opacity="0.55"/>
<line x1="634.90" y1="760.00" x2="644.50" y2="760.00" stroke="#d0644a" stroke-width="0.8" stroke-opacity="0.55"/>
<path d="M644.5,700.8L645.7,700.8L650.4,666.5L653.8,666.5 M644.5,700.8L645.7,700.8L650.4,670.6L653.8,670.6 M644.5,700.8L645.7,700.8L650.4,674.7L653.8,674.7 M644.5,700.8L645.7,700.8L650.4,678.8L653.8,678.8 M644.5,700.8L645.7,700.8L650.4,682.9L653.8,682.9 M644.5,700.8L645.7,700.8L650.4,687.0L653.8,687.0 M644.5,717.4L645.7,717.4L650.4,691.1L653.8,691.1 M644.5,717.4L645.7,717.4L650.4,695.2L653.8,695.2 M644.5,717.4L645.7,717.4L650.4,699.3L653.8,699.3 M644.5,717.4L645.7,717.4L650.4,703.5L653.8,703.5 M644.5,717.4L645.7,717.4L650.4,707.6L653.8,707.6 M644.5,736.3L645.7,736.3L650.4,711.7L653.8,711.7 M644.5,736.3L645.7,736.3L650.4,715.8L653.8,715.8 M644.5,736.3L645.7,736.3L650.4,719.9L653.8,719.9 M644.5,736.3L645.7,736.3L650.4,724.0L653.8,724.0 M644.5,736.3L645.7,736.3L650.4,728.1L653.8,728.1 M644.5,740.3L645.7,740.3L650.4,732.2L653.8,732.2 M644.5,740.3L645.7,740.3L650.4,736.4L653.8,736.4 M644.5,740.3L645.7,740.3L650.4,740.5L653.8,740.5 M644.5,740.3L645.7,740.3L650.4,744.6L653.8,744.6 M644.5,743.4L645.7,743.4L650.4,748.7L653.8,748.7 M644.5,743.4L645.7,743.4L650.4,752.8L653.8,752.8 M644.5,743.4L645.7,743.4L650.4,756.9L653.8,756.9 M644.5,743.4L645.7,743.4L650.4,761.0L653.8,761.0 M644.5,757.7L645.7,757.7L650.4,765.1L653.8,765.1 M644.5,757.7L645.7,757.7L650.4,769.3L653.8,769.3 M644.5,757.7L645.7,757.7L650.4,773.4L653.8,773.4 M644.5,760.0L645.7,760.0L650.4,777.5L653.8,777.5 M644.5,760.0L645.7,760.0L650.4,781.6L653.8,781.6 M644.5,760.0L645.7,760.0L650.4,785.7L653.8,785.7" fill="none" stroke="#6a6a6a" stroke-width="0.5"/>
<circle cx="653.80" cy="666.45" r="1.8" fill="#efaa69"/>
<circle cx="653.80" cy="670.56" r="1.8" fill="#efaa69"/>
<circle cx="653.80" cy="674.68" r="1.8" fill="#efaa69"/>
<circle cx="653.80" cy="678.79" r="1.8" fill="#efaa69"/>
<circle cx="653.80" cy="682.90" r="1.8" fill="#efaa69"/>
<circle cx="653.80" cy="687.01" r="1.8" fill="#efaa69"/>
<circle cx="653.80" cy="691.12" r="1.8" fill="#efaa69"/>
<circle cx="653.80" cy="695.24" r="1.8" fill="#efaa69"/>
<circle cx="653.80" cy="699.35" r="1.8" fill="#efaa69"/>
<circle cx="653.80" cy="703.46" r="1.8" fill="#efaa69"/>
<circle cx="653.80" cy="707.57" r="1.8" fill="#efaa69"/>
<circle cx="653.80" cy="711.68" r="1.8" fill="#efaa69"/>
<circle cx="653.80" cy="715.80" r="1.8" fill="#efaa69"/>
<circle cx="653.80" cy="719.91" r="1.8" fill="#efaa69"/>
<circle cx="653.80" cy="724.02" r="1.8" fill="#efaa69"/>
<circle cx="653.80" cy="728.13" r="1.8" fill="#efaa69"/>
<circle cx="653.80" cy="732.24" r="1.8" fill="#efaa69"/>
<circle cx="653.80" cy="736.36" r="1.8" fill="#efaa69"/>
<circle cx="653.80" cy="740.47" r="1.8" fill="#efaa69"/>
<circle cx="653.80" cy="744.58" r="1.8" fill="#efaa69"/>
<circle cx="653.80" cy="748.69" r="1.8" fill="#efaa69"/>
<circle cx="653.80" cy="752.80" r="1.8" fill="#efaa69"/>
<circle cx="653.80" cy="756.92" r="1.8" fill="#efaa69"/>
<circle cx="653.80" cy="761.03" r="1.8" fill="#efaa69"/>
<circle cx="653.80" cy="765.14" r="1.8" fill="#efaa69"/>
<circle cx="653.80" cy="769.25" r="1.8" fill="#efaa69"/>
<circle cx="653.80" cy="773.36" r="1.8" fill="#efaa69"/>
<circle cx="653.80" cy="777.48" r="1.8" fill="#efaa69"/>
<circle cx="653.80" cy="781.59" r="1.8" fill="#efaa69"/>
<circle cx="653.80" cy="785.70" r="1.8" fill="#efaa69"/>
<text x="639.40" y="776.80" font-size="8.3" text-anchor="middle" fill="#0d0d0d" >30</text>
<rect x="663.20" y="593.70" width="9.60" height="175.50" fill="#92d4c6" rx="1.8"/>
<line x1="663.20" y1="702.40" x2="672.80" y2="702.40" stroke="#b88a7a" stroke-width="0.8" stroke-opacity="0.55"/>
<line x1="663.20" y1="719.70" x2="672.80" y2="719.70" stroke="#b88a7a" stroke-width="0.8" stroke-opacity="0.55"/>
<line x1="663.20" y1="731.60" x2="672.80" y2="731.60" stroke="#b88a7a" stroke-width="0.8" stroke-opacity="0.55"/>
<line x1="663.20" y1="741.80" x2="672.80" y2="741.80" stroke="#b88a7a" stroke-width="0.8" stroke-opacity="0.55"/>
<line x1="663.20" y1="745.10" x2="672.80" y2="745.10" stroke="#b88a7a" stroke-width="0.8" stroke-opacity="0.55"/>
<line x1="663.20" y1="755.30" x2="672.80" y2="755.30" stroke="#b88a7a" stroke-width="0.8" stroke-opacity="0.55"/>
<line x1="663.20" y1="759.30" x2="672.80" y2="759.30" stroke="#b88a7a" stroke-width="0.8" stroke-opacity="0.55"/>
<line x1="663.20" y1="763.60" x2="672.80" y2="763.60" stroke="#b88a7a" stroke-width="0.8" stroke-opacity="0.55"/>
<path d="M672.8,702.4L674.0,702.4L678.7,641.8L682.1,641.8 M672.8,702.4L674.0,702.4L678.7,645.9L682.1,645.9 M672.8,702.4L674.0,702.4L678.7,650.0L682.1,650.0 M672.8,702.4L674.0,702.4L678.7,654.1L682.1,654.1 M672.8,702.4L674.0,702.4L678.7,658.2L682.1,658.2 M672.8,702.4L674.0,702.4L678.7,662.3L682.1,662.3 M672.8,719.7L674.0,719.7L678.7,666.5L682.1,666.5 M672.8,719.7L674.0,719.7L678.7,670.6L682.1,670.6 M672.8,719.7L674.0,719.7L678.7,674.7L682.1,674.7 M672.8,719.7L674.0,719.7L678.7,678.8L682.1,678.8 M672.8,719.7L674.0,719.7L678.7,682.9L682.1,682.9 M672.8,731.6L674.0,731.6L678.7,687.0L682.1,687.0 M672.8,731.6L674.0,731.6L678.7,691.1L682.1,691.1 M672.8,731.6L674.0,731.6L678.7,695.2L682.1,695.2 M672.8,731.6L674.0,731.6L678.7,699.3L682.1,699.3 M672.8,731.6L674.0,731.6L678.7,703.5L682.1,703.5 M672.8,741.8L674.0,741.8L678.7,707.6L682.1,707.6 M672.8,741.8L674.0,741.8L678.7,711.7L682.1,711.7 M672.8,741.8L674.0,741.8L678.7,715.8L682.1,715.8 M672.8,741.8L674.0,741.8L678.7,719.9L682.1,719.9 M672.8,745.1L674.0,745.1L678.7,724.0L682.1,724.0 M672.8,745.1L674.0,745.1L678.7,728.1L682.1,728.1 M672.8,745.1L674.0,745.1L678.7,732.2L682.1,732.2 M672.8,745.1L674.0,745.1L678.7,736.4L682.1,736.4 M672.8,755.3L674.0,755.3L678.7,740.5L682.1,740.5 M672.8,755.3L674.0,755.3L678.7,744.6L682.1,744.6 M672.8,755.3L674.0,755.3L678.7,748.7L682.1,748.7 M672.8,755.3L674.0,755.3L678.7,752.8L682.1,752.8 M672.8,759.3L674.0,759.3L678.7,756.9L682.1,756.9 M672.8,759.3L674.0,759.3L678.7,761.0L682.1,761.0 M672.8,759.3L674.0,759.3L678.7,765.1L682.1,765.1 M672.8,759.3L674.0,759.3L678.7,769.3L682.1,769.3 M672.8,763.6L674.0,763.6L678.7,773.4L682.1,773.4 M672.8,763.6L674.0,763.6L678.7,777.5L682.1,777.5 M672.8,763.6L674.0,763.6L678.7,781.6L682.1,781.6 M672.8,763.6L674.0,763.6L678.7,785.7L682.1,785.7" fill="none" stroke="#6a6a6a" stroke-width="0.5"/>
<circle cx="682.10" cy="641.78" r="1.8" fill="#92d4c6"/>
<circle cx="682.10" cy="645.89" r="1.8" fill="#92d4c6"/>
<circle cx="682.10" cy="650.00" r="1.8" fill="#92d4c6"/>
<circle cx="682.10" cy="654.12" r="1.8" fill="#92d4c6"/>
<circle cx="682.10" cy="658.23" r="1.8" fill="#92d4c6"/>
<circle cx="682.10" cy="662.34" r="1.8" fill="#92d4c6"/>
<circle cx="682.10" cy="666.45" r="1.8" fill="#92d4c6"/>
<circle cx="682.10" cy="670.56" r="1.8" fill="#92d4c6"/>
<circle cx="682.10" cy="674.68" r="1.8" fill="#92d4c6"/>
<circle cx="682.10" cy="678.79" r="1.8" fill="#92d4c6"/>
<circle cx="682.10" cy="682.90" r="1.8" fill="#92d4c6"/>
<circle cx="682.10" cy="687.01" r="1.8" fill="#92d4c6"/>
<circle cx="682.10" cy="691.12" r="1.8" fill="#92d4c6"/>
<circle cx="682.10" cy="695.24" r="1.8" fill="#92d4c6"/>
<circle cx="682.10" cy="699.35" r="1.8" fill="#92d4c6"/>
<circle cx="682.10" cy="703.46" r="1.8" fill="#92d4c6"/>
<circle cx="682.10" cy="707.57" r="1.8" fill="#92d4c6"/>
<circle cx="682.10" cy="711.68" r="1.8" fill="#92d4c6"/>
<circle cx="682.10" cy="715.80" r="1.8" fill="#92d4c6"/>
<circle cx="682.10" cy="719.91" r="1.8" fill="#92d4c6"/>
<circle cx="682.10" cy="724.02" r="1.8" fill="#92d4c6"/>
<circle cx="682.10" cy="728.13" r="1.8" fill="#92d4c6"/>
<circle cx="682.10" cy="732.24" r="1.8" fill="#92d4c6"/>
<circle cx="682.10" cy="736.36" r="1.8" fill="#92d4c6"/>
<circle cx="682.10" cy="740.47" r="1.8" fill="#92d4c6"/>
<circle cx="682.10" cy="744.58" r="1.8" fill="#92d4c6"/>
<circle cx="682.10" cy="748.69" r="1.8" fill="#92d4c6"/>
<circle cx="682.10" cy="752.80" r="1.8" fill="#92d4c6"/>
<circle cx="682.10" cy="756.92" r="1.8" fill="#92d4c6"/>
<circle cx="682.10" cy="761.03" r="1.8" fill="#92d4c6"/>
<circle cx="682.10" cy="765.14" r="1.8" fill="#92d4c6"/>
<circle cx="682.10" cy="769.25" r="1.8" fill="#92d4c6"/>
<circle cx="682.10" cy="773.36" r="1.8" fill="#92d4c6"/>
<circle cx="682.10" cy="777.48" r="1.8" fill="#92d4c6"/>
<circle cx="682.10" cy="781.59" r="1.8" fill="#92d4c6"/>
<circle cx="682.10" cy="785.70" r="1.8" fill="#92d4c6"/>
<text x="667.70" y="777.70" font-size="8.3" text-anchor="middle" fill="#0d0d0d" >36</text>
<line x1="458.50" y1="586.10" x2="498.45" y2="586.10" stroke="#555" stroke-width="1.0" />
<line x1="513.45" y1="586.10" x2="553.40" y2="586.10" stroke="#555" stroke-width="1.0" />
<line x1="458.50" y1="583.60" x2="458.50" y2="588.60" stroke="#555" stroke-width="1.0" />
<line x1="553.40" y1="583.60" x2="553.40" y2="588.60" stroke="#555" stroke-width="1.0" />
<text x="505.95" y="589.00" font-size="8.3" text-anchor="middle" fill="#0d0d0d" >1D</text>
<line x1="577.40" y1="586.10" x2="617.55" y2="586.10" stroke="#555" stroke-width="1.0" />
<line x1="632.55" y1="586.10" x2="672.70" y2="586.10" stroke="#555" stroke-width="1.0" />
<line x1="577.40" y1="583.60" x2="577.40" y2="588.60" stroke="#555" stroke-width="1.0" />
<line x1="672.70" y1="583.60" x2="672.70" y2="588.60" stroke="#555" stroke-width="1.0" />
<text x="625.05" y="589.00" font-size="8.3" text-anchor="middle" fill="#0d0d0d" >4D</text>
<circle cx="463.8" cy="797.0" r="1.9" fill="#ea7b77"/>
<text x="467.00" y="800.40" font-size="8.5" text-anchor="start" fill="#0d0d0d" >W1004</text>
<circle cx="518.3" cy="797.0" r="1.9" fill="#7fa4c3"/>
<text x="523.00" y="800.40" font-size="8.5" text-anchor="start" fill="#0d0d0d" >Sang</text>
<circle cx="574.0" cy="797.0" r="1.9" fill="#efaa69"/>
<text x="578.70" y="800.40" font-size="8.5" text-anchor="start" fill="#0d0d0d" >Sanfensan</text>
<circle cx="629.4" cy="797.0" r="1.9" fill="#92d4c6"/>
<text x="633.80" y="800.40" font-size="8.5" text-anchor="start" fill="#0d0d0d" >OT3098</text>
</svg>
</body></html>
